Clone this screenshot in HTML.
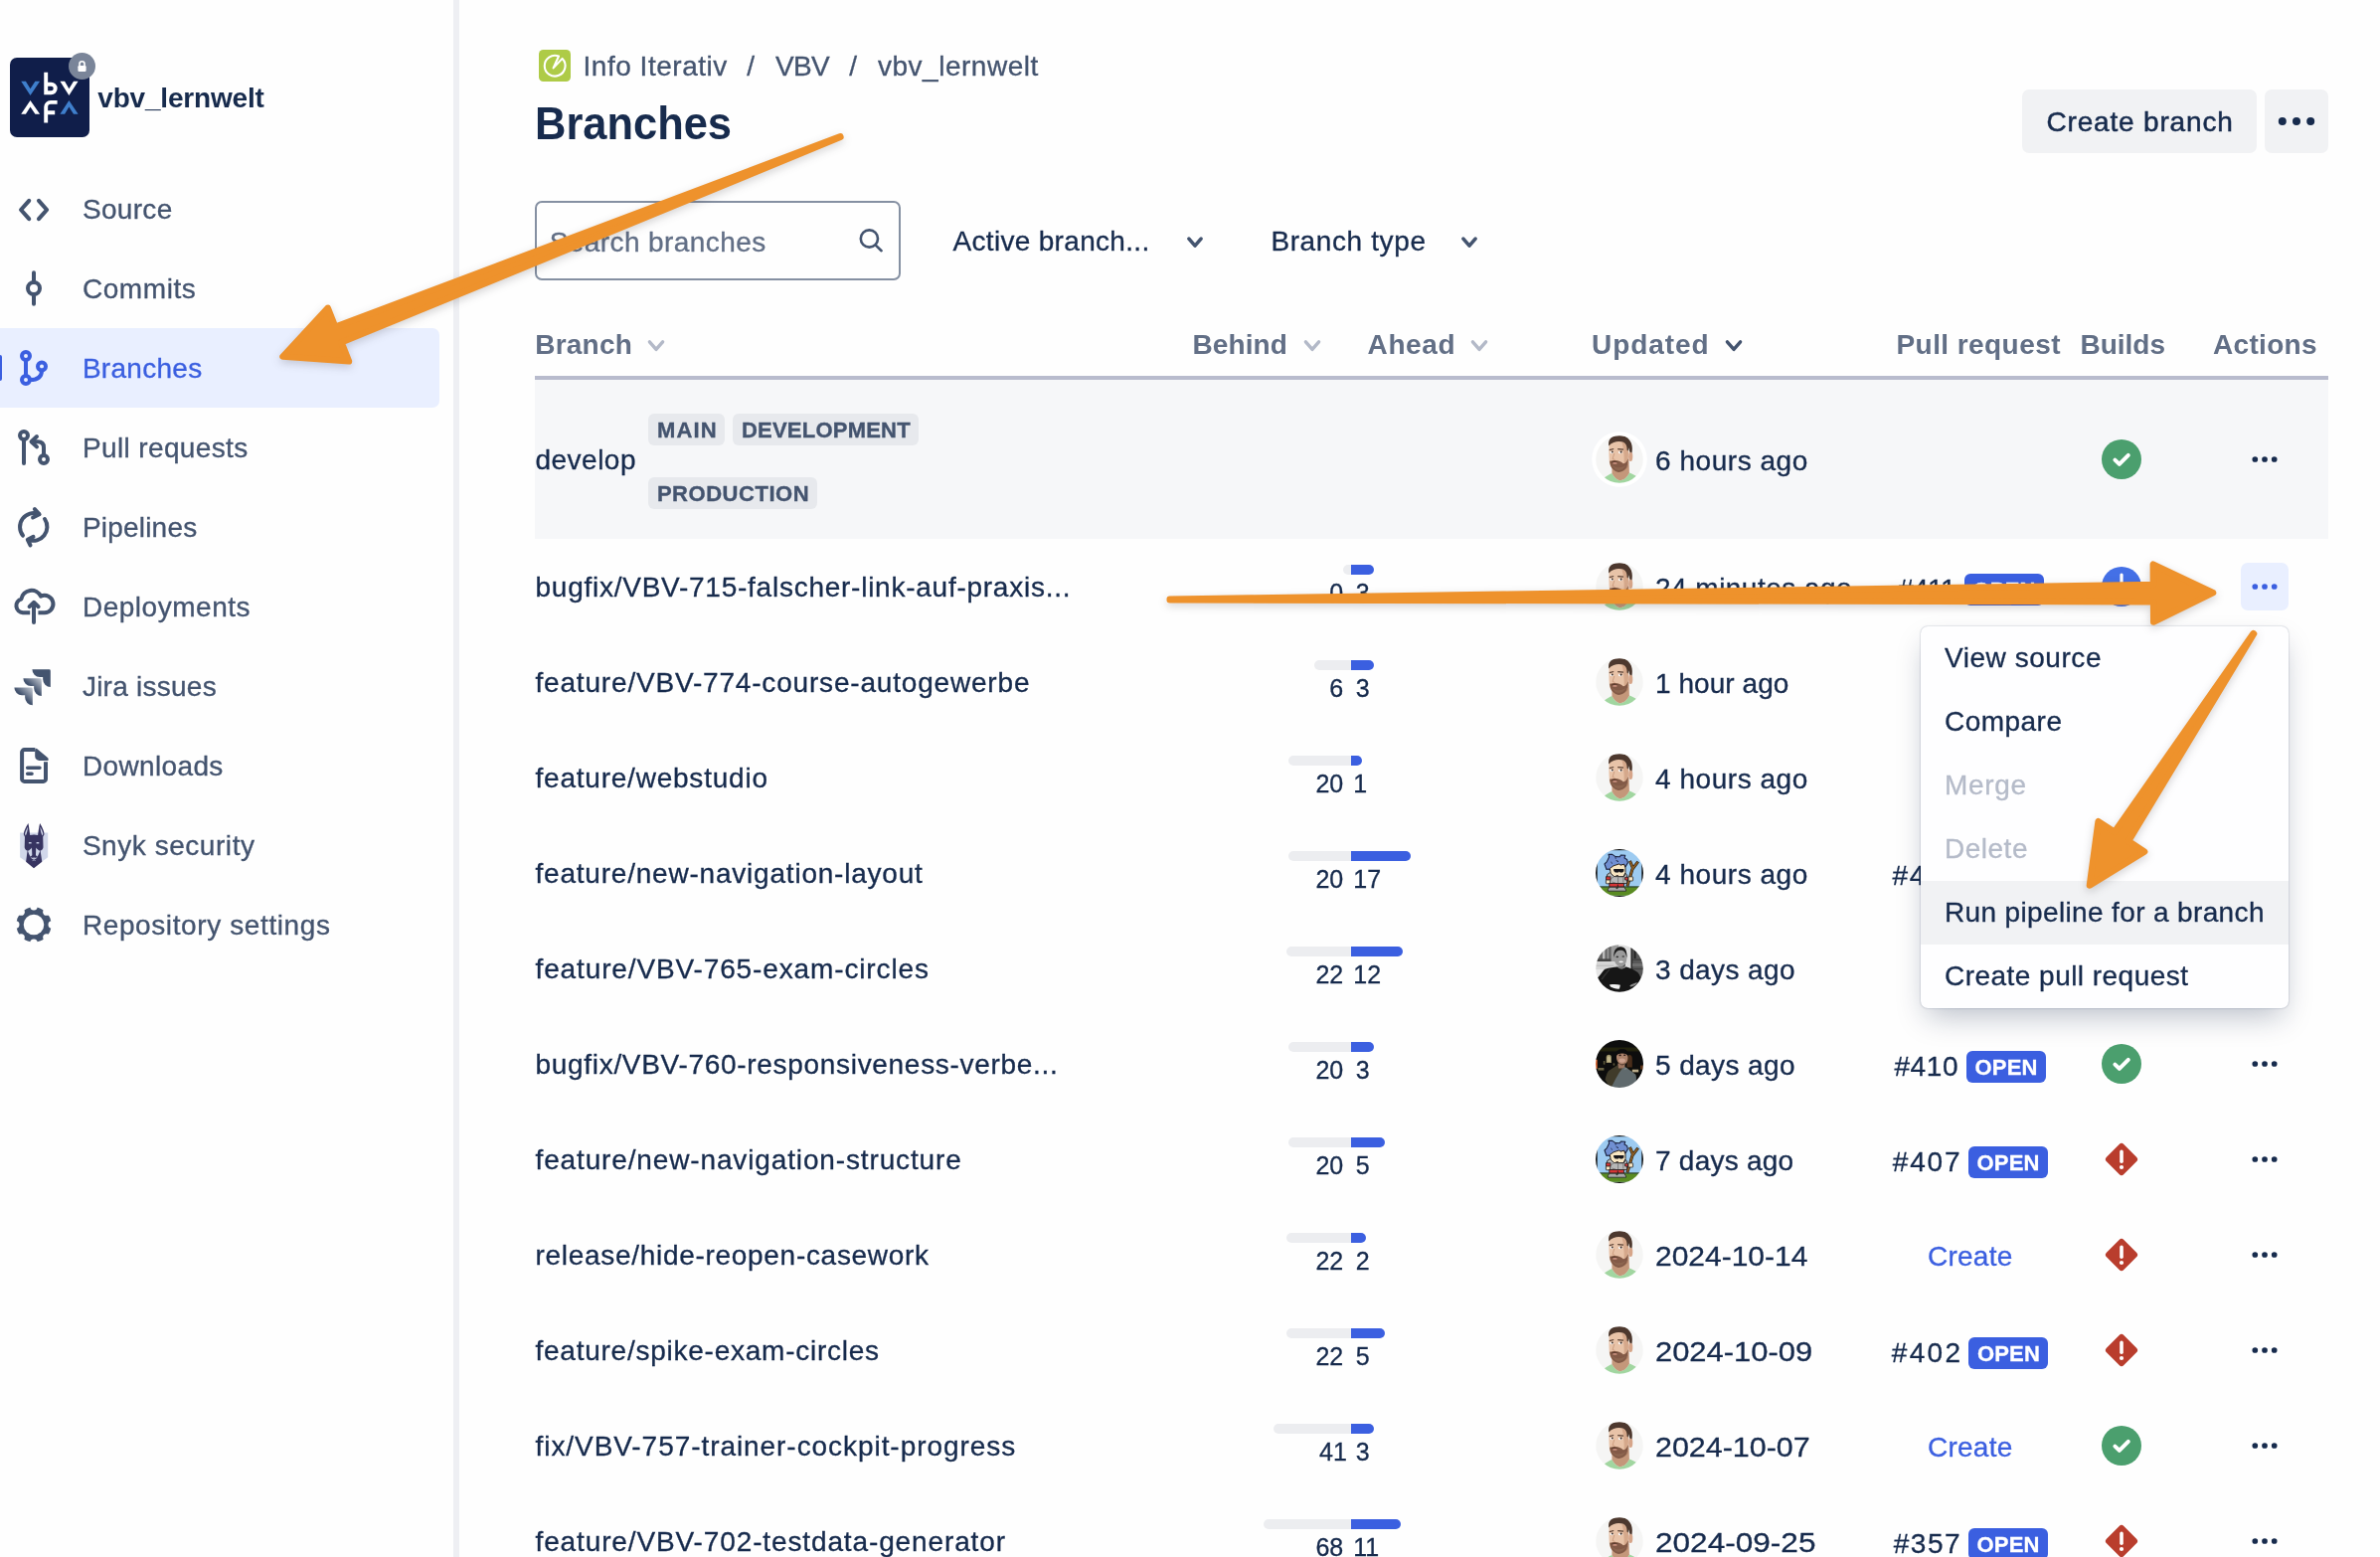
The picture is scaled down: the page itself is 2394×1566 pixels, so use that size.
<!DOCTYPE html>
<html><head><meta charset="utf-8"><title>Branches</title>
<style>
*{box-sizing:border-box;margin:0;padding:0}
html,body{width:2394px;height:1566px;overflow:hidden;background:#fefefe}
body{font-family:"Liberation Sans",sans-serif;position:relative;color:#172b4d}
.t{position:absolute;white-space:nowrap;font-family:"Liberation Sans",sans-serif}
.abs{position:absolute}
#root{position:absolute;left:0;top:0;width:2394px;height:1566px;will-change:transform;transform:translateZ(0)}
svg{position:absolute;overflow:visible}
</style></head>
<body>
<div id="root">
<div class="abs" style="left:456px;top:0;width:6px;height:1566px;background:#eeeff3"></div>
<div class="abs" style="left:-8px;top:330px;width:449.6px;height:80px;background:#e9efff;border-radius:7px"></div>
<div class="abs" style="left:-3px;top:357px;width:5px;height:26px;background:#3b5fe0;border-radius:2px"></div>
<div class="abs" style="left:10px;top:58px;width:80px;height:80px;background:#101e4a;border-radius:7px"></div>
<svg style="left:10px;top:58px" width="80" height="80" viewBox="10 58 80 80" fill="none">
<path d="M21.2 81.7 H25.9 L30.5 89.2 L35.4 81.7 H40.1 L30.5 95.9Z" fill="#3f7fcc"/>
<path d="M60.4 81.7 H65.1 L69.4 89.2 L74 81.7 H78.6 L69.4 95.9Z" fill="#fff"/>
<path d="M21.2 114.7 H25.9 L30.5 107.6 L35.4 114.7 H40.1 L30.5 101Z" fill="#fff"/>
<path d="M60.4 114.7 H65.1 L69.4 107.6 L74 114.7 H78.6 L69.4 101Z" fill="#3f7fcc"/>
<path d="M46.2 72.7 V95.2 M46.2 93.3 H51.4 A4.3 4.3 0 0 0 51.4 84.7 H46.2" stroke="#fff" stroke-width="3.9"/>
<path d="M46.2 123.5 V107.6 A4.7 4.7 0 0 1 50.9 102.9 H57.6 M46.2 113.2 H55.2" stroke="#fff" stroke-width="3.9"/>
</svg>
<div class="abs" style="left:68.5px;top:52.5px;width:27px;height:27px;background:#7a8599;border-radius:50%"></div>
<svg style="left:68.5px;top:52.5px" width="27" height="27" viewBox="0 0 27 27"><rect x="9.4" y="13" width="8.2" height="6" rx="1.2" fill="#fff"/><path d="M11 13 V11.3 A2.5 2.5 0 0 1 16 11.3 V13" stroke="#fff" stroke-width="1.6" fill="none"/></svg>
<span id="repo" class="t" style="left:98.3px;top:84.6px;font-size:28px;line-height:28px;color:#172b4d;font-weight:700;letter-spacing:-0.187px;">vbv_lernwelt</span>
<span id="nav0" class="t" style="left:82.9px;top:196.5px;font-size:28px;line-height:28px;color:#44546f;font-weight:400;letter-spacing:0.332px;-webkit-text-stroke:0.32px;">Source</span>
<span id="nav1" class="t" style="left:82.9px;top:276.5px;font-size:28px;line-height:28px;color:#44546f;font-weight:400;letter-spacing:0.588px;-webkit-text-stroke:0.32px;">Commits</span>
<span id="nav2" class="t" style="left:82.9px;top:356.5px;font-size:28px;line-height:28px;color:#3b5fe0;font-weight:400;letter-spacing:0.283px;-webkit-text-stroke:0.32px;">Branches</span>
<span id="nav3" class="t" style="left:82.9px;top:436.5px;font-size:28px;line-height:28px;color:#44546f;font-weight:400;letter-spacing:0.375px;-webkit-text-stroke:0.32px;">Pull requests</span>
<span id="nav4" class="t" style="left:82.9px;top:516.5px;font-size:28px;line-height:28px;color:#44546f;font-weight:400;letter-spacing:0.205px;-webkit-text-stroke:0.32px;">Pipelines</span>
<span id="nav5" class="t" style="left:82.9px;top:596.5px;font-size:28px;line-height:28px;color:#44546f;font-weight:400;letter-spacing:0.527px;-webkit-text-stroke:0.32px;">Deployments</span>
<span id="nav6" class="t" style="left:82.9px;top:676.5px;font-size:28px;line-height:28px;color:#44546f;font-weight:400;letter-spacing:0.251px;-webkit-text-stroke:0.32px;">Jira issues</span>
<span id="nav7" class="t" style="left:82.9px;top:756.5px;font-size:28px;line-height:28px;color:#44546f;font-weight:400;letter-spacing:0.369px;-webkit-text-stroke:0.32px;">Downloads</span>
<span id="nav8" class="t" style="left:82.9px;top:836.5px;font-size:28px;line-height:28px;color:#44546f;font-weight:400;letter-spacing:0.548px;-webkit-text-stroke:0.32px;">Snyk security</span>
<span id="nav9" class="t" style="left:82.9px;top:916.5px;font-size:28px;line-height:28px;color:#44546f;font-weight:400;letter-spacing:0.609px;-webkit-text-stroke:0.32px;">Repository settings</span>
<svg style="left:14px;top:191px" width="40" height="40" viewBox="-20 -20 40 40" fill="none" stroke="#44546f" stroke-width="4.1" stroke-linecap="round" stroke-linejoin="round"><path d="M-4.8 -9.15 L-12.95 0 L-4.8 9.15"/><path d="M5 -9.15 L13.1 0 L5 9.15"/></svg>
<svg style="left:14px;top:270px" width="40" height="40" viewBox="-20 -20 40 40" fill="none" stroke="#44546f" stroke-width="4" stroke-linecap="round" stroke-linejoin="round"><path d="M0 -15.8 V-8 M0 8 V15.8"/><circle cx="0" cy="0" r="6"/></svg>
<svg style="left:14px;top:350px" width="40" height="40" viewBox="-20 -20 40 40" fill="none" stroke="#3b5fe0" stroke-width="4" stroke-linecap="round" stroke-linejoin="round"><circle cx="-8" cy="-12" r="4"/><circle cx="-8" cy="12" r="4"/><circle cx="8" cy="-1.6" r="4"/><path d="M-8 -8 V8"/><path d="M8 2.4 C8 9 4 12 -4 12"/></svg>
<svg style="left:14px;top:430px" width="40" height="40" viewBox="-20 -20 40 40" fill="none" stroke="#44546f" stroke-width="4" stroke-linecap="round" stroke-linejoin="round"><circle cx="-10" cy="-12" r="4"/><path d="M-10 -8 V16"/><circle cx="10" cy="12" r="4"/><path d="M10 8 V0 C10 -4 8 -5.8 4 -5.8 H-1"/><path d="M3 -11 L-2.5 -5.8 L3 -0.6"/></svg>
<svg style="left:13.899999999999999px;top:509.5px" width="40" height="40" viewBox="-20 -20 40 40" fill="none" stroke="#44546f" stroke-width="4" stroke-linecap="round" stroke-linejoin="round"><path d="M-11 8.6 A14 14 0 0 1 5 -13.1"/><path d="M0.9 -17.9 L5.6 -12.7 L-0.9 -9.5"/><path d="M11 -8 A14 14 0 0 1 -5.4 13"/><path d="M-0.5 9.9 L-6.2 12.8 L-3.5 18.4"/></svg>
<svg style="left:9.899999999999999px;top:585.8px" width="48" height="48" viewBox="-24 -24 48 48" fill="none" stroke="#44546f" stroke-width="4" stroke-linecap="butt" stroke-linejoin="round"><path d="M-3.8 6.2 H-11 A7 7 0 0 1 -12.6 -7.5 A10.4 10.4 0 0 1 7 -10.3 A8.7 8.7 0 1 1 10 6.2 H4.4"/><path d="M0 16 V-3.4 M-4.4 0.2 L0 -4.2 L4.6 0.2" stroke-linecap="round"/></svg>
<svg style="left:0;top:660px" width="70" height="60" viewBox="0 660 70 60"><defs><linearGradient id="jg" x1="0.98" y1="0.02" x2="0.5" y2="0.52"><stop offset="0" stop-color="#44546f" stop-opacity="0.3"/><stop offset="1" stop-color="#44546f"/></linearGradient></defs><path transform="translate(50.8 673.3)" d="M-18.4 0 H-1.4 A1.4 1.4 0 0 1 0 1.4 V17.7 A7.64 7.64 0 0 1 -7.64 10.07 V7.64 H-10.8 A7.64 7.64 0 0 1 -18.4 0Z" fill="#44546f"/><path transform="translate(41.8 682.3)" d="M-18.4 0 H-1.4 A1.4 1.4 0 0 1 0 1.4 V17.7 A7.64 7.64 0 0 1 -7.64 10.07 V7.64 H-10.8 A7.64 7.64 0 0 1 -18.4 0Z" fill="url(#jg)"/><path transform="translate(32.8 691.5)" d="M-18.4 0 H-1.4 A1.4 1.4 0 0 1 0 1.4 V17.7 A7.64 7.64 0 0 1 -7.64 10.07 V7.64 H-10.8 A7.64 7.64 0 0 1 -18.4 0Z" fill="url(#jg)"/></svg>
<svg style="left:14.100000000000001px;top:749.8px" width="40" height="40" viewBox="-20 -20 40 40" fill="none" stroke="#44546f" stroke-width="4" stroke-linecap="butt" stroke-linejoin="round"><path d="M12 -3.7 V13.4 A2.5 2.5 0 0 1 9.5 15.9 H-9.4 A2.5 2.5 0 0 1 -11.9 13.4 V-13.4 A2.5 2.5 0 0 1 -9.4 -15.9 H1.4"/><path d="M2.6 -16.4 L13.4 -7.4 Q14 -6.6 13.9 -5.9 H5.4 Q2.2 -6.2 2 -9.4 V-15.9 Z" fill="#44546f" stroke-width="1.6"/><path d="M-6.3 2.2 H5.9 M-6.3 8.2 H-2" stroke-width="3.6" stroke-linecap="round"/></svg>
<svg style="left:9.9px;top:826px" width="48" height="48" viewBox="-24 -24 48 48">
<path d="M-13.9 -12.5 H14.2 V12.3 L8.2 16.6 H-7.8 L-13.9 12.3Z" fill="#d1d7ea"/>
<path d="M-5.6 -22 C-4.6 -17 -4.2 -13 -3.8 -9.9 C-1.4 -10.6 1.6 -10.6 4.1 -9.9 C4.5 -13 5 -17 6.1 -22 C8.6 -18 10.4 -14 10.5 -11 C10 -9.6 9.5 -9 9.2 -8.2 L9.5 2.2 C9.2 4 8 5.2 6.6 5.6 L8.3 16.8 L0 23.2 L-7.9 16.8 L-6.4 5.6 C-7.8 5.2 -9 4 -9.3 2.2 L-9 -8.2 C-9.3 -9 -9.8 -9.6 -10.2 -11 C-10 -14 -8.2 -18 -5.6 -22Z" fill="#373461"/>
<path d="M-5.9 -18.6 C-7.6 -15.6 -8.8 -13 -8.9 -11 L-8.2 -9.4 C-7 -12 -6.2 -15 -5.9 -18.6Z M6.3 -18.6 C8 -15.6 9.2 -13 9.3 -11 L8.6 -9.4 C7.4 -12 6.6 -15 6.3 -18.6Z" fill="#d1d7ea"/>
<path d="M-6 5.8 C-4.2 5 -2.8 3.6 -2 2.4 L-1.7 10 C-2.2 10.8 -2.8 11.2 -3.4 11.4 C-4.6 10 -5.4 8 -6 5.8Z M6.2 5.8 C4.4 5 3 3.6 2.2 2.4 L2 10 C2.4 10.8 3 11.2 3.6 11.4 C4.8 10 5.6 8 6.2 5.8Z" fill="#d1d7ea"/>
<path d="M-3.6 11.6 C-2.4 13 -1.2 13.2 0.1 12.2 C1.4 13.2 2.6 13 3.8 11.6 C3 13.6 1.6 14.6 0.1 14.6 C-1.4 14.6 -2.8 13.6 -3.6 11.6Z" fill="#d1d7ea" opacity="0.85"/>
<rect x="-5.2" y="-2.9" width="2.9" height="1.5" rx="0.6" fill="#c4cae2"/><rect x="2.5" y="-2.9" width="2.9" height="1.5" rx="0.6" fill="#c4cae2"/>
<path d="M-1.4 15.6 Q0.1 14.2 1.6 15.6" stroke="#b9c0dc" stroke-width="0.8" fill="none"/>
</svg>
<svg style="left:9.7px;top:905.7px" width="48" height="48" viewBox="-24 -24 48 48"><defs><mask id="gm" maskUnits="userSpaceOnUse" x="-24" y="-24" width="48" height="48"><circle cx="0" cy="0" r="17.65" fill="#fff"/><circle cx="0.00" cy="-18.20" r="3.7" fill="#000"/><circle cx="12.87" cy="-12.87" r="3.7" fill="#000"/><circle cx="18.20" cy="0.00" r="3.7" fill="#000"/><circle cx="12.87" cy="12.87" r="3.7" fill="#000"/><circle cx="0.00" cy="18.20" r="3.7" fill="#000"/><circle cx="-12.87" cy="12.87" r="3.7" fill="#000"/><circle cx="-18.20" cy="0.00" r="3.7" fill="#000"/><circle cx="-12.87" cy="-12.87" r="3.7" fill="#000"/><circle cx="0" cy="0" r="10.25" fill="#000"/></mask></defs><rect x="-24" y="-24" width="48" height="48" fill="#44546f" mask="url(#gm)"/></svg>
<div class="abs" style="left:542px;top:50px;width:32px;height:32px;background:#aecb47;border-radius:4.5px"></div>
<svg style="left:542px;top:50px" width="32" height="32" viewBox="0 0 32 32" fill="none" stroke="#fff" stroke-width="2.1" stroke-linejoin="round"><path d="M20 6.5 A10.4 10.4 0 1 0 23.6 8.9 L14.6 18.4 Z"/></svg>
<span id="bc1" class="t" style="left:586.5px;top:53.0px;font-size:28px;line-height:28px;color:#44546f;font-weight:400;letter-spacing:0.522px;-webkit-text-stroke:0.32px;">Info Iterativ</span>
<span id="bcs1" class="t" style="left:751.2px;top:53.0px;font-size:28px;line-height:28px;color:#44546f;font-weight:400;letter-spacing:0.000px;-webkit-text-stroke:0.32px;">/</span>
<span id="bc2" class="t" style="left:780.0px;top:53.0px;font-size:28px;line-height:28px;color:#44546f;font-weight:400;letter-spacing:-0.676px;-webkit-text-stroke:0.32px;">VBV</span>
<span id="bcs2" class="t" style="left:854.2px;top:53.0px;font-size:28px;line-height:28px;color:#44546f;font-weight:400;letter-spacing:0.000px;-webkit-text-stroke:0.32px;">/</span>
<span id="bc3" class="t" style="left:883.0px;top:53.0px;font-size:28px;line-height:28px;color:#44546f;font-weight:400;letter-spacing:0.513px;-webkit-text-stroke:0.32px;">vbv_lernwelt</span>
<span id="h1" class="t" style="left:537.8px;top:99.9px;font-size:47px;line-height:47px;color:#172b4d;font-weight:700;letter-spacing:0.000px;transform:scaleX(0.9245);transform-origin:left center;">Branches</span>
<div class="abs" style="left:2034px;top:90px;width:236px;height:64px;background:#f1f2f4;border-radius:7px"></div>
<span id="cb" class="t" style="left:2058.5px;top:108.6px;font-size:28px;line-height:28px;color:#172b4d;font-weight:400;letter-spacing:0.820px;-webkit-text-stroke:0.5px;">Create branch</span>
<div class="abs" style="left:2278px;top:90px;width:64px;height:64px;background:#f1f2f4;border-radius:7px"></div>
<svg style="left:2278px;top:90px" width="64" height="64" viewBox="0 0 64 64" fill="#172b4d"><circle cx="17.8" cy="32" r="4"/><circle cx="32" cy="32" r="4"/><circle cx="46.2" cy="32" r="4"/></svg>
<div class="abs" style="left:538px;top:202px;width:368px;height:80px;border:2px solid #8590a2;border-radius:7px;background:#fefefe"></div>
<span id="sp" class="t" style="left:552.7px;top:230.0px;font-size:28px;line-height:28px;color:#626f86;font-weight:400;letter-spacing:0.414px;-webkit-text-stroke:0.32px;">Search branches</span>
<svg style="left:860px;top:226px" width="32" height="32" viewBox="0 0 32 32" fill="none" stroke="#44546f" stroke-width="2.6" stroke-linecap="round"><circle cx="14.4" cy="14" r="8.6"/><path d="M20.8 20.6 L26.6 26.2"/></svg>
<span id="f1" class="t" style="left:958.5px;top:228.6px;font-size:28px;line-height:28px;color:#172b4d;font-weight:400;letter-spacing:0.313px;-webkit-text-stroke:0.32px;">Active branch...</span>
<svg style="left:1189.8px;top:230.6px" width="24" height="24" viewBox="-12 -12 24 24" fill="none" stroke="#44546f" stroke-width="3.6" stroke-linecap="round" stroke-linejoin="round"><path d="M-6.1 -2.9 L0 4.1 L6.1 -2.9"/></svg>
<span id="f2" class="t" style="left:1278.4px;top:228.6px;font-size:28px;line-height:28px;color:#172b4d;font-weight:400;letter-spacing:0.616px;-webkit-text-stroke:0.32px;">Branch type</span>
<svg style="left:1465.7px;top:230.6px" width="24" height="24" viewBox="-12 -12 24 24" fill="none" stroke="#44546f" stroke-width="3.6" stroke-linecap="round" stroke-linejoin="round"><path d="M-6.1 -2.9 L0 4.1 L6.1 -2.9"/></svg>
<span id="th1" class="t" style="left:538.3px;top:333.4px;font-size:28px;line-height:28px;color:#626f86;font-weight:700;letter-spacing:0.202px;">Branch</span>
<svg style="left:648px;top:335px" width="24" height="24" viewBox="-12 -12 24 24" fill="none" stroke="#b3b9c8" stroke-width="3.4" stroke-linecap="round" stroke-linejoin="round"><path d="M-6.6 -3.1999999999999997 L0 4.3999999999999995 L6.6 -3.1999999999999997"/></svg>
<span id="th2" class="t" style="left:1199.4px;top:333.4px;font-size:28px;line-height:28px;color:#626f86;font-weight:700;letter-spacing:0.118px;">Behind</span>
<svg style="left:1307.7px;top:335px" width="24" height="24" viewBox="-12 -12 24 24" fill="none" stroke="#b3b9c8" stroke-width="3.4" stroke-linecap="round" stroke-linejoin="round"><path d="M-6.6 -3.1999999999999997 L0 4.3999999999999995 L6.6 -3.1999999999999997"/></svg>
<span id="th3" class="t" style="left:1375.6px;top:333.4px;font-size:28px;line-height:28px;color:#626f86;font-weight:700;letter-spacing:0.600px;">Ahead</span>
<svg style="left:1475.8px;top:335px" width="24" height="24" viewBox="-12 -12 24 24" fill="none" stroke="#b3b9c8" stroke-width="3.4" stroke-linecap="round" stroke-linejoin="round"><path d="M-6.6 -3.1999999999999997 L0 4.3999999999999995 L6.6 -3.1999999999999997"/></svg>
<span id="th4" class="t" style="left:1601.1px;top:333.4px;font-size:28px;line-height:28px;color:#626f86;font-weight:700;letter-spacing:0.930px;">Updated</span>
<svg style="left:1732px;top:335px" width="24" height="24" viewBox="-12 -12 24 24" fill="none" stroke="#44546f" stroke-width="3.4" stroke-linecap="round" stroke-linejoin="round"><path d="M-6.6 -3.1999999999999997 L0 4.3999999999999995 L6.6 -3.1999999999999997"/></svg>
<span id="th5" class="t" style="left:1907.5px;top:333.4px;font-size:28px;line-height:28px;color:#626f86;font-weight:700;letter-spacing:0.429px;">Pull request</span>
<span id="th6" class="t" style="left:2092.5px;top:333.4px;font-size:28px;line-height:28px;color:#626f86;font-weight:700;letter-spacing:-0.016px;">Builds</span>
<span id="th7" class="t" style="left:2226.1px;top:333.4px;font-size:28px;line-height:28px;color:#626f86;font-weight:700;letter-spacing:0.299px;">Actions</span>
<div class="abs" style="left:538px;top:378.4px;width:1804px;height:3.6px;background:#b8bbcd"></div>
<div class="abs" style="left:538px;top:382px;width:1804px;height:160px;background:#f6f7f9"></div>
<div class="abs" style="left:652px;top:416px;width:77px;height:32px;background:#e7e9ed;border-radius:6px"></div>
<span id="lz1" class="t" style="left:660.9px;top:421.7px;font-size:22px;line-height:22px;color:#44546f;font-weight:700;letter-spacing:1.184px;-webkit-text-stroke:0.35px;">MAIN</span>
<div class="abs" style="left:737px;top:416px;width:187px;height:32px;background:#e7e9ed;border-radius:6px"></div>
<span id="lz2" class="t" style="left:745.9px;top:421.7px;font-size:22px;line-height:22px;color:#44546f;font-weight:700;letter-spacing:0.230px;-webkit-text-stroke:0.35px;">DEVELOPMENT</span>
<div class="abs" style="left:652px;top:480px;width:170px;height:32px;background:#e7e9ed;border-radius:6px"></div>
<span id="lz3" class="t" style="left:660.9px;top:485.7px;font-size:22px;line-height:22px;color:#44546f;font-weight:700;letter-spacing:0.542px;-webkit-text-stroke:0.35px;">PRODUCTION</span>
<span id="dev" class="t" style="left:538.5px;top:449.1px;font-size:28px;line-height:28px;color:#172b4d;font-weight:400;letter-spacing:0.481px;-webkit-text-stroke:0.32px;">develop</span>
<svg style="left:1601.2px;top:434.3px" width="56" height="56" viewBox="-28 -28 56 56"><defs><clipPath id="cd"><circle cx="0" cy="0" r="23.8"/></clipPath><filter id="bd" x="-10%" y="-10%" width="120%" height="120%"><feGaussianBlur stdDeviation="0.4"/></filter></defs><circle cx="0" cy="0" r="27.8" fill="#ffffff"/><g clip-path="url(#cd)"><g filter="url(#bd)"><rect x="-26" y="-26" width="52" height="52" fill="#f5f5f4"/>
<path d="M-16.5 19.5 C-13 16.5 -9.5 14.8 -7.6 14 C-5 19 -1 21.3 0.5 21.3 C4 21.3 8 18 9.9 13.6 C12.5 14.6 15.5 16 17.5 17.6 L22 26 H-22Z" fill="#a1d6a0"/>
<path d="M-7.4 5 L-7.6 14 C-5 19 -1 21.3 0.5 21.3 C4 21.3 8 18 9.9 13.6 L9.4 0 Z" fill="#c4977a"/>
<path d="M-7.4 9 C-3 13.5 3 13.5 8.5 8 L9.3 3 L-7.4 5Z" fill="#a87c62" opacity="0.7"/>
<ellipse cx="11.2" cy="-2.8" rx="2.1" ry="4.9" fill="#d6a589"/>
<path d="M-10.3 -19 C-10.8 -8 -10.6 0 -9.8 5 C-8 10 -4 12.6 -1 12.8 C3 12.8 7.2 9 8.4 4 L9.2 -8 L7.6 -19.5 Z" fill="#e8c3a8"/>
<path d="M2.5 -17 L7.6 -17.5 L9.2 -8 L8.4 4 C7.6 7 6 9.4 4 11 C5.2 4 5 -8 2.5 -17Z" fill="#cf9f82" opacity="0.75"/>
<path d="M-10.8 -13.6 C-11.6 -20 -8 -23.6 -2 -24.2 C4 -24.8 9.4 -22.2 11.8 -16.4 C13.2 -12.6 13 -8.6 12.4 -6.4 L10.4 -7.6 C9.8 -8.6 9.6 -10.2 9.2 -11.8 L8.7 -8.6 L7.6 -9.2 C7.8 -13 6.6 -15.8 4 -17.2 C0 -18.4 -6 -18.6 -10.8 -13.6Z" fill="#4d392e"/>
<path d="M-9.9 1.6 C-9.6 7 -7 11 -3 12.6 C0 13.5 4 12.2 6.6 9 C8.2 6.5 8.7 3 8.8 -1 C7.4 2.6 5.8 4.2 3.8 4.2 C2.2 2.4 -1 0.9 -4.6 0.9 C-6.6 0.9 -8.2 1.8 -9.9 1.6Z" fill="#835a46"/>
<path d="M-8.2 2.4 C-6 1.2 -3 1.4 -0.6 3 C-3 2.6 -6 2.8 -8.2 3.6Z" fill="#5e3c2e"/><path d="M-7.6 5.4 C-6 9 -3 11 -0.4 11 C2.6 11 5 9 6.4 5.8 C4 7.6 2 8.2 -0.4 8.2 C-3 8.2 -5.6 7.4 -7.6 5.4Z" fill="#96705a" opacity="0.55"/>
<ellipse cx="-4.6" cy="3.9" rx="2.3" ry="0.9" fill="#c9907f"/>
<ellipse cx="-7.7" cy="-7" rx="1.7" ry="1.15" fill="#fff"/><ellipse cx="0.9" cy="-6.9" rx="2" ry="1.25" fill="#fff"/>
<circle cx="-7.2" cy="-7.5" r="0.95" fill="#3a2a24"/><circle cx="1.6" cy="-7.4" r="1.05" fill="#3a2a24"/>
<path d="M-10.2 -9.4 L-5.8 -10.5 M-1.8 -10.4 L4 -9.9" stroke="#5a4033" stroke-width="1.2" fill="none"/>
<path d="M-5.2 -6 L-7 -0.4 L-4.4 0.4" stroke="#c9997c" stroke-width="0.9" fill="none"/></g></g></svg>
<span id="upd" class="t" style="left:1665.0px;top:449.8px;font-size:28px;line-height:28px;color:#172b4d;font-weight:400;letter-spacing:0.539px;-webkit-text-stroke:0.32px;">6 hours ago</span>
<svg style="left:2113.9px;top:441.8px" width="40" height="40" viewBox="-20 -20 40 40"><circle cx="0" cy="0" r="20" fill="#4b9f6e"/><path d="M-6.6 0.6 L-2.2 4.8 L6.8 -4.2" fill="none" stroke="#fff" stroke-width="4" stroke-linecap="round" stroke-linejoin="round"/></svg>
<svg style="left:2262px;top:453.8px" width="32" height="16" viewBox="-16 -8 32 16" fill="#172b4d"><circle cx="-9.7" cy="0" r="2.85"/><circle cx="0" cy="0" r="2.85"/><circle cx="9.7" cy="0" r="2.85"/></svg>
<span id="bn0" class="t" style="left:538.5px;top:577.4px;font-size:28px;line-height:28px;color:#172b4d;font-weight:400;letter-spacing:0.748px;-webkit-text-stroke:0.32px;">bugfix/VBV-715-falscher-link-auf-praxis...</span>
<div class="abs" style="left:1350.7px;top:567.7px;width:8.0px;height:10px;background:#ecedf0;border-radius:5px 0 0 5px"></div>
<div class="abs" style="left:1358.7px;top:567.7px;width:23.3px;height:10px;background:#3b5fe0;border-radius:0 5px 5px 0"></div>
<span id="nb0" class="t" style="right:1042.8px;top:583.7px;font-size:25px;line-height:25px;color:#172b4d;font-weight:400;letter-spacing:0.000px;margin-right:0.000px;-webkit-text-stroke:0.32px;">0</span>
<span id="na0" class="t" style="left:1363.7px;top:583.7px;font-size:25px;line-height:25px;color:#172b4d;font-weight:400;letter-spacing:0.000px;-webkit-text-stroke:0.32px;">3</span>
<svg style="left:1601.2px;top:562.3px" width="56" height="56" viewBox="-28 -28 56 56"><defs><clipPath id="cr0"><circle cx="0" cy="0" r="23.8"/></clipPath><filter id="br0" x="-10%" y="-10%" width="120%" height="120%"><feGaussianBlur stdDeviation="0.4"/></filter></defs><g clip-path="url(#cr0)"><g filter="url(#br0)"><rect x="-26" y="-26" width="52" height="52" fill="#f5f5f4"/>
<path d="M-16.5 19.5 C-13 16.5 -9.5 14.8 -7.6 14 C-5 19 -1 21.3 0.5 21.3 C4 21.3 8 18 9.9 13.6 C12.5 14.6 15.5 16 17.5 17.6 L22 26 H-22Z" fill="#a1d6a0"/>
<path d="M-7.4 5 L-7.6 14 C-5 19 -1 21.3 0.5 21.3 C4 21.3 8 18 9.9 13.6 L9.4 0 Z" fill="#c4977a"/>
<path d="M-7.4 9 C-3 13.5 3 13.5 8.5 8 L9.3 3 L-7.4 5Z" fill="#a87c62" opacity="0.7"/>
<ellipse cx="11.2" cy="-2.8" rx="2.1" ry="4.9" fill="#d6a589"/>
<path d="M-10.3 -19 C-10.8 -8 -10.6 0 -9.8 5 C-8 10 -4 12.6 -1 12.8 C3 12.8 7.2 9 8.4 4 L9.2 -8 L7.6 -19.5 Z" fill="#e8c3a8"/>
<path d="M2.5 -17 L7.6 -17.5 L9.2 -8 L8.4 4 C7.6 7 6 9.4 4 11 C5.2 4 5 -8 2.5 -17Z" fill="#cf9f82" opacity="0.75"/>
<path d="M-10.8 -13.6 C-11.6 -20 -8 -23.6 -2 -24.2 C4 -24.8 9.4 -22.2 11.8 -16.4 C13.2 -12.6 13 -8.6 12.4 -6.4 L10.4 -7.6 C9.8 -8.6 9.6 -10.2 9.2 -11.8 L8.7 -8.6 L7.6 -9.2 C7.8 -13 6.6 -15.8 4 -17.2 C0 -18.4 -6 -18.6 -10.8 -13.6Z" fill="#4d392e"/>
<path d="M-9.9 1.6 C-9.6 7 -7 11 -3 12.6 C0 13.5 4 12.2 6.6 9 C8.2 6.5 8.7 3 8.8 -1 C7.4 2.6 5.8 4.2 3.8 4.2 C2.2 2.4 -1 0.9 -4.6 0.9 C-6.6 0.9 -8.2 1.8 -9.9 1.6Z" fill="#835a46"/>
<path d="M-8.2 2.4 C-6 1.2 -3 1.4 -0.6 3 C-3 2.6 -6 2.8 -8.2 3.6Z" fill="#5e3c2e"/><path d="M-7.6 5.4 C-6 9 -3 11 -0.4 11 C2.6 11 5 9 6.4 5.8 C4 7.6 2 8.2 -0.4 8.2 C-3 8.2 -5.6 7.4 -7.6 5.4Z" fill="#96705a" opacity="0.55"/>
<ellipse cx="-4.6" cy="3.9" rx="2.3" ry="0.9" fill="#c9907f"/>
<ellipse cx="-7.7" cy="-7" rx="1.7" ry="1.15" fill="#fff"/><ellipse cx="0.9" cy="-6.9" rx="2" ry="1.25" fill="#fff"/>
<circle cx="-7.2" cy="-7.5" r="0.95" fill="#3a2a24"/><circle cx="1.6" cy="-7.4" r="1.05" fill="#3a2a24"/>
<path d="M-10.2 -9.4 L-5.8 -10.5 M-1.8 -10.4 L4 -9.9" stroke="#5a4033" stroke-width="1.2" fill="none"/>
<path d="M-5.2 -6 L-7 -0.4 L-4.4 0.4" stroke="#c9997c" stroke-width="0.9" fill="none"/></g></g></svg>
<span id="up0" class="t" style="left:1665.0px;top:578.0px;font-size:28px;line-height:28px;color:#172b4d;font-weight:400;letter-spacing:0.470px;-webkit-text-stroke:0.32px;">24 minutes ago</span>
<span id="pr0" class="t" style="right:426.4px;top:579.0px;font-size:28px;line-height:28px;color:#172b4d;font-weight:400;letter-spacing:-0.580px;margin-right:0.580px;-webkit-text-stroke:0.32px;">#411</span>
<div class="abs" style="left:1976px;top:577px;width:80px;height:32px;background:#3b5fe0;border-radius:6px"></div>
<span id="op0" class="t" style="left:1984.5px;top:582.9px;font-size:22px;line-height:22px;color:#fff;font-weight:700;letter-spacing:0.204px;-webkit-text-stroke:0.3px;">OPEN</span>
<svg style="left:2113.8px;top:570px" width="40" height="40" viewBox="-20 -20 40 40"><circle cx="0" cy="0" r="20" fill="#4470e6"/><path d="M0 -12 V0 L7 6" fill="none" stroke="#fff" stroke-width="3.2" stroke-linecap="round" stroke-linejoin="round"/></svg>
<div class="abs" style="left:2254px;top:566px;width:48px;height:48px;background:#e9efff;border-radius:7px"></div>
<svg style="left:2262px;top:582px" width="32" height="16" viewBox="-16 -8 32 16" fill="#3b5fe0"><circle cx="-9.7" cy="0" r="2.85"/><circle cx="0" cy="0" r="2.85"/><circle cx="9.7" cy="0" r="2.85"/></svg>
<span id="bn1" class="t" style="left:538.5px;top:673.4px;font-size:28px;line-height:28px;color:#172b4d;font-weight:400;letter-spacing:0.815px;-webkit-text-stroke:0.32px;">feature/VBV-774-course-autogewerbe</span>
<div class="abs" style="left:1322.0px;top:663.7px;width:36.7px;height:10px;background:#ecedf0;border-radius:5px 0 0 5px"></div>
<div class="abs" style="left:1358.7px;top:663.7px;width:23.3px;height:10px;background:#3b5fe0;border-radius:0 5px 5px 0"></div>
<span id="nb1" class="t" style="right:1042.8px;top:679.7px;font-size:25px;line-height:25px;color:#172b4d;font-weight:400;letter-spacing:0.000px;margin-right:0.000px;-webkit-text-stroke:0.32px;">6</span>
<span id="na1" class="t" style="left:1363.7px;top:679.7px;font-size:25px;line-height:25px;color:#172b4d;font-weight:400;letter-spacing:0.000px;-webkit-text-stroke:0.32px;">3</span>
<svg style="left:1601.2px;top:658.3px" width="56" height="56" viewBox="-28 -28 56 56"><defs><clipPath id="cr1"><circle cx="0" cy="0" r="23.8"/></clipPath><filter id="br1" x="-10%" y="-10%" width="120%" height="120%"><feGaussianBlur stdDeviation="0.4"/></filter></defs><g clip-path="url(#cr1)"><g filter="url(#br1)"><rect x="-26" y="-26" width="52" height="52" fill="#f5f5f4"/>
<path d="M-16.5 19.5 C-13 16.5 -9.5 14.8 -7.6 14 C-5 19 -1 21.3 0.5 21.3 C4 21.3 8 18 9.9 13.6 C12.5 14.6 15.5 16 17.5 17.6 L22 26 H-22Z" fill="#a1d6a0"/>
<path d="M-7.4 5 L-7.6 14 C-5 19 -1 21.3 0.5 21.3 C4 21.3 8 18 9.9 13.6 L9.4 0 Z" fill="#c4977a"/>
<path d="M-7.4 9 C-3 13.5 3 13.5 8.5 8 L9.3 3 L-7.4 5Z" fill="#a87c62" opacity="0.7"/>
<ellipse cx="11.2" cy="-2.8" rx="2.1" ry="4.9" fill="#d6a589"/>
<path d="M-10.3 -19 C-10.8 -8 -10.6 0 -9.8 5 C-8 10 -4 12.6 -1 12.8 C3 12.8 7.2 9 8.4 4 L9.2 -8 L7.6 -19.5 Z" fill="#e8c3a8"/>
<path d="M2.5 -17 L7.6 -17.5 L9.2 -8 L8.4 4 C7.6 7 6 9.4 4 11 C5.2 4 5 -8 2.5 -17Z" fill="#cf9f82" opacity="0.75"/>
<path d="M-10.8 -13.6 C-11.6 -20 -8 -23.6 -2 -24.2 C4 -24.8 9.4 -22.2 11.8 -16.4 C13.2 -12.6 13 -8.6 12.4 -6.4 L10.4 -7.6 C9.8 -8.6 9.6 -10.2 9.2 -11.8 L8.7 -8.6 L7.6 -9.2 C7.8 -13 6.6 -15.8 4 -17.2 C0 -18.4 -6 -18.6 -10.8 -13.6Z" fill="#4d392e"/>
<path d="M-9.9 1.6 C-9.6 7 -7 11 -3 12.6 C0 13.5 4 12.2 6.6 9 C8.2 6.5 8.7 3 8.8 -1 C7.4 2.6 5.8 4.2 3.8 4.2 C2.2 2.4 -1 0.9 -4.6 0.9 C-6.6 0.9 -8.2 1.8 -9.9 1.6Z" fill="#835a46"/>
<path d="M-8.2 2.4 C-6 1.2 -3 1.4 -0.6 3 C-3 2.6 -6 2.8 -8.2 3.6Z" fill="#5e3c2e"/><path d="M-7.6 5.4 C-6 9 -3 11 -0.4 11 C2.6 11 5 9 6.4 5.8 C4 7.6 2 8.2 -0.4 8.2 C-3 8.2 -5.6 7.4 -7.6 5.4Z" fill="#96705a" opacity="0.55"/>
<ellipse cx="-4.6" cy="3.9" rx="2.3" ry="0.9" fill="#c9907f"/>
<ellipse cx="-7.7" cy="-7" rx="1.7" ry="1.15" fill="#fff"/><ellipse cx="0.9" cy="-6.9" rx="2" ry="1.25" fill="#fff"/>
<circle cx="-7.2" cy="-7.5" r="0.95" fill="#3a2a24"/><circle cx="1.6" cy="-7.4" r="1.05" fill="#3a2a24"/>
<path d="M-10.2 -9.4 L-5.8 -10.5 M-1.8 -10.4 L4 -9.9" stroke="#5a4033" stroke-width="1.2" fill="none"/>
<path d="M-5.2 -6 L-7 -0.4 L-4.4 0.4" stroke="#c9997c" stroke-width="0.9" fill="none"/></g></g></svg>
<span id="up1" class="t" style="left:1665.0px;top:674.0px;font-size:28px;line-height:28px;color:#172b4d;font-weight:400;letter-spacing:0.054px;-webkit-text-stroke:0.32px;">1 hour ago</span>
<svg style="left:2262px;top:678px" width="32" height="16" viewBox="-16 -8 32 16" fill="#172b4d"><circle cx="-9.7" cy="0" r="2.85"/><circle cx="0" cy="0" r="2.85"/><circle cx="9.7" cy="0" r="2.85"/></svg>
<span id="bn2" class="t" style="left:538.5px;top:769.4px;font-size:28px;line-height:28px;color:#172b4d;font-weight:400;letter-spacing:0.777px;-webkit-text-stroke:0.32px;">feature/webstudio</span>
<div class="abs" style="left:1295.9px;top:759.7px;width:62.8px;height:10px;background:#ecedf0;border-radius:5px 0 0 5px"></div>
<div class="abs" style="left:1358.7px;top:759.7px;width:11.5px;height:10px;background:#3b5fe0;border-radius:0 5px 5px 0"></div>
<span id="nb2" class="t" style="right:1042.8px;top:775.7px;font-size:25px;line-height:25px;color:#172b4d;font-weight:400;letter-spacing:0.000px;margin-right:0.000px;-webkit-text-stroke:0.32px;">20</span>
<span id="na2" class="t" style="left:1361.3px;top:775.7px;font-size:25px;line-height:25px;color:#172b4d;font-weight:400;letter-spacing:0.000px;-webkit-text-stroke:0.32px;">1</span>
<svg style="left:1601.2px;top:754.3px" width="56" height="56" viewBox="-28 -28 56 56"><defs><clipPath id="cr2"><circle cx="0" cy="0" r="23.8"/></clipPath><filter id="br2" x="-10%" y="-10%" width="120%" height="120%"><feGaussianBlur stdDeviation="0.4"/></filter></defs><g clip-path="url(#cr2)"><g filter="url(#br2)"><rect x="-26" y="-26" width="52" height="52" fill="#f5f5f4"/>
<path d="M-16.5 19.5 C-13 16.5 -9.5 14.8 -7.6 14 C-5 19 -1 21.3 0.5 21.3 C4 21.3 8 18 9.9 13.6 C12.5 14.6 15.5 16 17.5 17.6 L22 26 H-22Z" fill="#a1d6a0"/>
<path d="M-7.4 5 L-7.6 14 C-5 19 -1 21.3 0.5 21.3 C4 21.3 8 18 9.9 13.6 L9.4 0 Z" fill="#c4977a"/>
<path d="M-7.4 9 C-3 13.5 3 13.5 8.5 8 L9.3 3 L-7.4 5Z" fill="#a87c62" opacity="0.7"/>
<ellipse cx="11.2" cy="-2.8" rx="2.1" ry="4.9" fill="#d6a589"/>
<path d="M-10.3 -19 C-10.8 -8 -10.6 0 -9.8 5 C-8 10 -4 12.6 -1 12.8 C3 12.8 7.2 9 8.4 4 L9.2 -8 L7.6 -19.5 Z" fill="#e8c3a8"/>
<path d="M2.5 -17 L7.6 -17.5 L9.2 -8 L8.4 4 C7.6 7 6 9.4 4 11 C5.2 4 5 -8 2.5 -17Z" fill="#cf9f82" opacity="0.75"/>
<path d="M-10.8 -13.6 C-11.6 -20 -8 -23.6 -2 -24.2 C4 -24.8 9.4 -22.2 11.8 -16.4 C13.2 -12.6 13 -8.6 12.4 -6.4 L10.4 -7.6 C9.8 -8.6 9.6 -10.2 9.2 -11.8 L8.7 -8.6 L7.6 -9.2 C7.8 -13 6.6 -15.8 4 -17.2 C0 -18.4 -6 -18.6 -10.8 -13.6Z" fill="#4d392e"/>
<path d="M-9.9 1.6 C-9.6 7 -7 11 -3 12.6 C0 13.5 4 12.2 6.6 9 C8.2 6.5 8.7 3 8.8 -1 C7.4 2.6 5.8 4.2 3.8 4.2 C2.2 2.4 -1 0.9 -4.6 0.9 C-6.6 0.9 -8.2 1.8 -9.9 1.6Z" fill="#835a46"/>
<path d="M-8.2 2.4 C-6 1.2 -3 1.4 -0.6 3 C-3 2.6 -6 2.8 -8.2 3.6Z" fill="#5e3c2e"/><path d="M-7.6 5.4 C-6 9 -3 11 -0.4 11 C2.6 11 5 9 6.4 5.8 C4 7.6 2 8.2 -0.4 8.2 C-3 8.2 -5.6 7.4 -7.6 5.4Z" fill="#96705a" opacity="0.55"/>
<ellipse cx="-4.6" cy="3.9" rx="2.3" ry="0.9" fill="#c9907f"/>
<ellipse cx="-7.7" cy="-7" rx="1.7" ry="1.15" fill="#fff"/><ellipse cx="0.9" cy="-6.9" rx="2" ry="1.25" fill="#fff"/>
<circle cx="-7.2" cy="-7.5" r="0.95" fill="#3a2a24"/><circle cx="1.6" cy="-7.4" r="1.05" fill="#3a2a24"/>
<path d="M-10.2 -9.4 L-5.8 -10.5 M-1.8 -10.4 L4 -9.9" stroke="#5a4033" stroke-width="1.2" fill="none"/>
<path d="M-5.2 -6 L-7 -0.4 L-4.4 0.4" stroke="#c9997c" stroke-width="0.9" fill="none"/></g></g></svg>
<span id="up2" class="t" style="left:1665.0px;top:770.0px;font-size:28px;line-height:28px;color:#172b4d;font-weight:400;letter-spacing:0.539px;-webkit-text-stroke:0.32px;">4 hours ago</span>
<svg style="left:2262px;top:774px" width="32" height="16" viewBox="-16 -8 32 16" fill="#172b4d"><circle cx="-9.7" cy="0" r="2.85"/><circle cx="0" cy="0" r="2.85"/><circle cx="9.7" cy="0" r="2.85"/></svg>
<span id="bn3" class="t" style="left:538.5px;top:865.4px;font-size:28px;line-height:28px;color:#172b4d;font-weight:400;letter-spacing:0.787px;-webkit-text-stroke:0.32px;">feature/new-navigation-layout</span>
<div class="abs" style="left:1295.9px;top:855.7px;width:62.8px;height:10px;background:#ecedf0;border-radius:5px 0 0 5px"></div>
<div class="abs" style="left:1358.7px;top:855.7px;width:60.2px;height:10px;background:#3b5fe0;border-radius:0 5px 5px 0"></div>
<span id="nb3" class="t" style="right:1042.8px;top:871.7px;font-size:25px;line-height:25px;color:#172b4d;font-weight:400;letter-spacing:0.000px;margin-right:0.000px;-webkit-text-stroke:0.32px;">20</span>
<span id="na3" class="t" style="left:1361.3px;top:871.7px;font-size:25px;line-height:25px;color:#172b4d;font-weight:400;letter-spacing:0.000px;-webkit-text-stroke:0.32px;">17</span>
<svg style="left:1601.2px;top:850.3px" width="56" height="56" viewBox="-28 -28 56 56"><defs><clipPath id="cr3"><circle cx="0" cy="0" r="24"/></clipPath><filter id="br3" x="-10%" y="-10%" width="120%" height="120%"><feGaussianBlur stdDeviation="0.25"/></filter></defs><g clip-path="url(#cr3)"><g filter="url(#br3)"><rect x="-26" y="-26" width="52" height="52" fill="#111"/>
<rect x="-22.3" y="-22.8" width="44.6" height="45.6" fill="#9dcbf1"/>
<rect x="-22.3" y="14.2" width="44.6" height="8.6" fill="#5a8b23"/><rect x="-22.3" y="13.4" width="44.6" height="1.1" fill="#1f3312"/>
<path d="M8.3 12 L13.4 -5.2 L11 -10.8 M13.6 -4.6 L17.8 -10.2" stroke="#2a1c0c" stroke-width="3" fill="none" stroke-linecap="square"/>
<path d="M8.3 12 L13.4 -5.2 L11 -10.8 M13.6 -4.6 L17.8 -10.2" stroke="#8e5f27" stroke-width="1.7" fill="none" stroke-linecap="square"/>
<path d="M-13 -3.5 L-15 -9 L-12.6 -11.4 L-10.4 -16 L-11 -18.8 L-7.2 -18.6 L-4 -16.4 L0.4 -16.2 L1.4 -18 L5.8 -17.8 L5 -15 L7.6 -13.6 L8.4 -10 L7.4 -8.6 L6 -6 L4.4 -8.6 L1 -7.4 L-0.6 -8.6 L-6.6 -6 L-9 -2.6 L-11 -4 Z" fill="#6f8fd2" stroke="#1d2340" stroke-width="1.1" stroke-linejoin="round"/>
<path d="M-8.6 -11 L-7.2 -9.6 M-4.6 -15.2 L-3.2 -14.8 M-3.4 -12.6 L-1 -11.4" stroke="#1d2340" stroke-width="1" />
<path d="M-9.6 -4.6 L-6 -7.2 L-0.4 -9 L1.2 -7.8 L4.6 -8.8 L6 -5 V-0.4 L4 3.6 L-4.6 4.2 L-8.8 0.6Z" fill="#f8e6c2" stroke="#231a14" stroke-width="0.9"/>
<path d="M-5.8 -4 H4.4 V-1.8 L3 -0.4 H0.6 L-0.2 -1.6 L-1.2 -0.4 H-4.2 L-5.8 -2Z" fill="#15151a"/>
<rect x="-3.4" y="2" width="2.2" height="0.9" fill="#3a2620"/>
<path d="M-12.4 1.6 L-9.4 -0.4 L-5.6 3.6 L4.4 3.8 L6.2 0.4 L7.6 2.2 V10.6 H-10.2 L-12.4 6Z" fill="#b7b7b7" stroke="#222" stroke-width="0.9"/>
<path d="M-8.8 6 L-5.6 3.8 M-1.4 4.2 V10 M3.8 4.2 V9.6 M-7.6 9 L-3.6 10.2" stroke="#777" stroke-width="0.9" fill="none"/>
<rect x="-13.6" y="3.8" width="4.6" height="3.4" fill="#d63434" stroke="#222" stroke-width="0.8"/><path d="M5.4 4.6 L8.6 4 L8.6 7.4 L5.4 6.8Z" fill="#d63434" stroke="#222" stroke-width="0.8"/>
<rect x="-13.6" y="7" width="4.2" height="3.8" rx="0.6" fill="#f8e6c2" stroke="#222" stroke-width="0.8"/>
<rect x="9" y="3.8" width="4.6" height="4.2" rx="0.6" fill="#f8e6c2" stroke="#222" stroke-width="0.8"/>
<rect x="-10.2" y="10.4" width="14.6" height="3.6" fill="#d63434" stroke="#222" stroke-width="0.8"/><rect x="-2.2" y="11.6" width="1" height="2.6" fill="#222"/>
<path d="M-11.6 18.2 V16.4 L-10 14.2 H-3 V16 L-0.4 14.2 H4.6 L6.6 17 V18.2Z" fill="#a9a9a9" stroke="#222" stroke-width="0.8"/></g></g></svg>
<span id="up3" class="t" style="left:1665.0px;top:866.0px;font-size:28px;line-height:28px;color:#172b4d;font-weight:400;letter-spacing:0.539px;-webkit-text-stroke:0.32px;">4 hours ago</span>
<span id="pr3" class="t" style="right:423.4px;top:867.0px;font-size:28px;line-height:28px;color:#172b4d;font-weight:400;letter-spacing:1.561px;margin-right:-1.561px;-webkit-text-stroke:0.32px;">#409</span>
<div class="abs" style="left:1979px;top:865px;width:80px;height:32px;background:#3b5fe0;border-radius:6px"></div>
<span id="op3" class="t" style="left:1987.5px;top:870.9px;font-size:22px;line-height:22px;color:#fff;font-weight:700;letter-spacing:0.204px;-webkit-text-stroke:0.3px;">OPEN</span>
<svg style="left:2113.8px;top:858px" width="40" height="40" viewBox="-20 -20 40 40"><circle cx="0" cy="0" r="20" fill="#4b9f6e"/><path d="M-6.6 0.6 L-2.2 4.8 L6.8 -4.2" fill="none" stroke="#fff" stroke-width="4" stroke-linecap="round" stroke-linejoin="round"/></svg>
<svg style="left:2262px;top:870px" width="32" height="16" viewBox="-16 -8 32 16" fill="#172b4d"><circle cx="-9.7" cy="0" r="2.85"/><circle cx="0" cy="0" r="2.85"/><circle cx="9.7" cy="0" r="2.85"/></svg>
<span id="bn4" class="t" style="left:538.5px;top:961.4px;font-size:28px;line-height:28px;color:#172b4d;font-weight:400;letter-spacing:0.872px;-webkit-text-stroke:0.32px;">feature/VBV-765-exam-circles</span>
<div class="abs" style="left:1293.9px;top:951.7px;width:64.8px;height:10px;background:#ecedf0;border-radius:5px 0 0 5px"></div>
<div class="abs" style="left:1358.7px;top:951.7px;width:52.1px;height:10px;background:#3b5fe0;border-radius:0 5px 5px 0"></div>
<span id="nb4" class="t" style="right:1042.8px;top:967.7px;font-size:25px;line-height:25px;color:#172b4d;font-weight:400;letter-spacing:0.000px;margin-right:0.000px;-webkit-text-stroke:0.32px;">22</span>
<span id="na4" class="t" style="left:1361.3px;top:967.7px;font-size:25px;line-height:25px;color:#172b4d;font-weight:400;letter-spacing:0.000px;-webkit-text-stroke:0.32px;">12</span>
<svg style="left:1601.2px;top:946.3px" width="56" height="56" viewBox="-28 -28 56 56"><defs><clipPath id="cr4"><circle cx="0" cy="0" r="23.8"/></clipPath><filter id="br4" x="-10%" y="-10%" width="120%" height="120%"><feGaussianBlur stdDeviation="0.5"/></filter></defs><g clip-path="url(#cr4)"><g filter="url(#br4)"><rect x="-26" y="-26" width="52" height="52" fill="#e6e6e6"/>
<rect x="-24" y="-22" width="16" height="15" fill="#666"/><rect x="-17" y="-20" width="2.4" height="11" fill="#bbb"/><rect x="-12.4" y="-20" width="1.6" height="11" fill="#999"/><rect x="-24" y="-9.6" width="16" height="2.6" fill="#444"/>
<rect x="-24" y="-7" width="20.5" height="8" fill="#d5d5d5"/><rect x="-24" y="-3.4" width="18" height="1.2" fill="#bdbdbd"/>
<rect x="-8.4" y="-24" width="8" height="17" fill="#9c9c9c"/>
<rect x="-0.8" y="-25" width="12.8" height="27" fill="#dedede"/>
<rect x="11.6" y="-25" width="14" height="40" fill="#585858"/><rect x="11.6" y="-25" width="1.6" height="30" fill="#2d2d2d"/>
<rect x="13" y="-9.4" width="12" height="1.1" fill="#3a3a3a"/><rect x="13" y="-5" width="12" height="3" fill="#6e6e6e"/><rect x="13" y="0" width="12" height="1.1" fill="#3f3f3f"/><rect x="14.6" y="-20" width="2" height="10" fill="#222"/>
<path d="M-5.4 -10 C-6 -19 -2 -21.2 1.4 -21.2 C5 -21.2 7.6 -18 7.4 -11 C7.2 -6 5.6 -2.2 2.6 -1.4 C-0.6 -1 -4.6 -3.4 -5.4 -10Z" fill="#9a9a9a"/>
<path d="M-5.6 -11 C-6.4 -19.6 -2 -21.8 1.4 -21.8 C5.4 -21.8 8 -18 7.4 -10.4 C6.6 -15.6 4.6 -18.2 1.4 -18.2 C-2 -18.2 -4.4 -16.4 -5.6 -11Z" fill="#1c1c1c"/>
<path d="M-3.8 -3.6 C-1.6 -0.6 3.4 -0.4 6 -4.4 C6.2 -2.4 5.2 -1 2.8 -0.6 C-0.2 -0.4 -2.6 -1.2 -3.8 -3.6Z" fill="#3c3c3c"/>
<ellipse cx="1.6" cy="-6.7" rx="2.3" ry="0.9" fill="#f2f2f2"/>
<ellipse cx="-2.2" cy="-11.6" rx="1.3" ry="0.8" fill="#333"/><ellipse cx="3.8" cy="-12" rx="1.3" ry="0.8" fill="#3a3a3a"/>
<path d="M-2.2 -1.8 L6.8 -1.8 L8 0.4 L-3.4 0.4Z" fill="#7d7d7d"/>
<path d="M-26 26 V12 C-20 10 -17 2 -14.6 0.8 C-10 -0.6 -6 -1 -2.4 -1.4 C0 1.2 4 1.2 7 -1.4 C11 0 15 1.6 18.4 4 C21 7 22 12 24 16 V26Z" fill="#171717"/>
<path d="M-18 11 C-14 6 -12 3 -10 1" stroke="#303030" stroke-width="1.6" fill="none"/>
<path d="M-10.2 16.6 C-6 15.8 -2 16 0.8 16.8 L0 20.6 C-3 20.8 -7 20 -9 18.6Z" fill="#f1f1f1"/>
<path d="M10.4 17.2 C13 15.4 16 14.4 18 14.2 L17 16 C15 17.4 12.6 18.2 11 18.4Z" fill="#8d8d8d"/></g></g></svg>
<span id="up4" class="t" style="left:1665.0px;top:962.0px;font-size:28px;line-height:28px;color:#172b4d;font-weight:400;letter-spacing:0.387px;-webkit-text-stroke:0.32px;">3 days ago</span>
<svg style="left:2262px;top:966px" width="32" height="16" viewBox="-16 -8 32 16" fill="#172b4d"><circle cx="-9.7" cy="0" r="2.85"/><circle cx="0" cy="0" r="2.85"/><circle cx="9.7" cy="0" r="2.85"/></svg>
<span id="bn5" class="t" style="left:538.5px;top:1057.4px;font-size:28px;line-height:28px;color:#172b4d;font-weight:400;letter-spacing:0.694px;-webkit-text-stroke:0.32px;">bugfix/VBV-760-responsiveness-verbe...</span>
<div class="abs" style="left:1295.9px;top:1047.7px;width:62.8px;height:10px;background:#ecedf0;border-radius:5px 0 0 5px"></div>
<div class="abs" style="left:1358.7px;top:1047.7px;width:23.3px;height:10px;background:#3b5fe0;border-radius:0 5px 5px 0"></div>
<span id="nb5" class="t" style="right:1042.8px;top:1063.7px;font-size:25px;line-height:25px;color:#172b4d;font-weight:400;letter-spacing:0.000px;margin-right:0.000px;-webkit-text-stroke:0.32px;">20</span>
<span id="na5" class="t" style="left:1363.7px;top:1063.7px;font-size:25px;line-height:25px;color:#172b4d;font-weight:400;letter-spacing:0.000px;-webkit-text-stroke:0.32px;">3</span>
<svg style="left:1601.2px;top:1042.3px" width="56" height="56" viewBox="-28 -28 56 56"><defs><clipPath id="cr5"><circle cx="0" cy="0" r="24"/></clipPath><filter id="br5" x="-10%" y="-10%" width="120%" height="120%"><feGaussianBlur stdDeviation="0.55"/></filter></defs><g clip-path="url(#cr5)"><g filter="url(#br5)"><rect x="-26" y="-26" width="52" height="52" fill="#0f0e09"/>
<rect x="-22" y="-16.4" width="44" height="3.8" fill="#27230f" opacity="0.9"/>
<rect x="-24.5" y="-4.2" width="2.2" height="9" fill="#d9622b"/>
<path d="M-13.3 -1 V-6.4 A2.6 2.8 0 0 1 -8.1 -6.4 V-1Z" fill="#9a9068"/><path d="M-12.4 -2 V-5.8 A1.7 2 0 0 1 -9 -5.8 V-2Z" fill="#c2b78c"/>
<rect x="-16.2" y="-3" width="1.6" height="3.6" fill="#5d583c"/><rect x="-6.4" y="-0.6" width="1.6" height="2.2" fill="#5d583c"/>
<rect x="-21.6" y="4" width="6" height="2.6" fill="#6a6444"/>
<path d="M7.4 3.6 V-5 A2.7 4 0 0 1 12.8 -5 V3.6Z" fill="#4a2f1a"/>
<rect x="12.8" y="5.7" width="6.4" height="2.7" fill="#b9ab89"/><rect x="21" y="1.6" width="3" height="4" fill="#5a3115"/>
<path d="M-1.6 -0.4 L5.4 -0.6 L5.6 7 L-1.6 7Z" fill="#9c7560"/>
<path d="M-3 -6 C-3.4 -11 -0.6 -13 2.8 -13 C6.4 -13 8.6 -10.6 8.4 -5.6 C8.2 -2 6.4 0.6 3.2 0.8 C0 0.8 -2.6 -1.8 -3 -6Z" fill="#ad836c"/>
<ellipse cx="2.6" cy="-3.4" rx="3.2" ry="2.2" fill="#d4aa98" opacity="0.8"/>
<path d="M-3.2 -7.6 C-3.8 -13.4 -0.6 -15 2.8 -15 C6.8 -15 9 -12.4 8.5 -7 C8 -9.8 6 -10.6 2.8 -10.6 C-0.6 -10.6 -2.6 -9.8 -3.2 -7.6Z" fill="#0d0c0a"/>
<ellipse cx="0.6" cy="-8.6" rx="1.2" ry="0.8" fill="#2a1c16"/><ellipse cx="5.2" cy="-8.7" rx="1.2" ry="0.8" fill="#2a1c16"/>
<path d="M-0.8 -1.2 C1 0.8 4.4 0.8 6.4 -1.4 C5.6 1 3.6 1.4 2.8 1.4 C1.6 1.4 0 0.6 -0.8 -1.2Z" fill="#5c4234"/>
<path d="M-2 1.2 L-11 7 C-13 10 -14 13.6 -14.4 16 L-8 26 H-4 L3.2 4.6 L-1 4.4Z" fill="#403b2b"/>
<path d="M3 4.4 L5.6 3.2 C9.6 5.6 13.6 8.4 16.4 10.8 C17.4 14 17 18 16 22 L10 26 H-9.4 C-5.6 18 -1.6 10 3 4.4Z" fill="#606b6d"/>
<path d="M5.6 3.2 L8.6 5 L4.4 6.2 Z" fill="#77807f"/></g></g></svg>
<span id="up5" class="t" style="left:1665.0px;top:1058.0px;font-size:28px;line-height:28px;color:#172b4d;font-weight:400;letter-spacing:0.387px;-webkit-text-stroke:0.32px;">5 days ago</span>
<span id="pr5" class="t" style="right:424.4px;top:1059.0px;font-size:28px;line-height:28px;color:#172b4d;font-weight:400;letter-spacing:0.628px;margin-right:-0.628px;-webkit-text-stroke:0.32px;">#410</span>
<div class="abs" style="left:1978px;top:1057px;width:80px;height:32px;background:#3b5fe0;border-radius:6px"></div>
<span id="op5" class="t" style="left:1986.5px;top:1062.9px;font-size:22px;line-height:22px;color:#fff;font-weight:700;letter-spacing:0.204px;-webkit-text-stroke:0.3px;">OPEN</span>
<svg style="left:2113.8px;top:1050px" width="40" height="40" viewBox="-20 -20 40 40"><circle cx="0" cy="0" r="20" fill="#4b9f6e"/><path d="M-6.6 0.6 L-2.2 4.8 L6.8 -4.2" fill="none" stroke="#fff" stroke-width="4" stroke-linecap="round" stroke-linejoin="round"/></svg>
<svg style="left:2262px;top:1062px" width="32" height="16" viewBox="-16 -8 32 16" fill="#172b4d"><circle cx="-9.7" cy="0" r="2.85"/><circle cx="0" cy="0" r="2.85"/><circle cx="9.7" cy="0" r="2.85"/></svg>
<span id="bn6" class="t" style="left:538.5px;top:1153.4px;font-size:28px;line-height:28px;color:#172b4d;font-weight:400;letter-spacing:0.862px;-webkit-text-stroke:0.32px;">feature/new-navigation-structure</span>
<div class="abs" style="left:1295.9px;top:1143.7px;width:62.8px;height:10px;background:#ecedf0;border-radius:5px 0 0 5px"></div>
<div class="abs" style="left:1358.7px;top:1143.7px;width:34.1px;height:10px;background:#3b5fe0;border-radius:0 5px 5px 0"></div>
<span id="nb6" class="t" style="right:1042.8px;top:1159.7px;font-size:25px;line-height:25px;color:#172b4d;font-weight:400;letter-spacing:0.000px;margin-right:0.000px;-webkit-text-stroke:0.32px;">20</span>
<span id="na6" class="t" style="left:1363.7px;top:1159.7px;font-size:25px;line-height:25px;color:#172b4d;font-weight:400;letter-spacing:0.000px;-webkit-text-stroke:0.32px;">5</span>
<svg style="left:1601.2px;top:1138.3px" width="56" height="56" viewBox="-28 -28 56 56"><defs><clipPath id="cr6"><circle cx="0" cy="0" r="24"/></clipPath><filter id="br6" x="-10%" y="-10%" width="120%" height="120%"><feGaussianBlur stdDeviation="0.25"/></filter></defs><g clip-path="url(#cr6)"><g filter="url(#br6)"><rect x="-26" y="-26" width="52" height="52" fill="#111"/>
<rect x="-22.3" y="-22.8" width="44.6" height="45.6" fill="#9dcbf1"/>
<rect x="-22.3" y="14.2" width="44.6" height="8.6" fill="#5a8b23"/><rect x="-22.3" y="13.4" width="44.6" height="1.1" fill="#1f3312"/>
<path d="M8.3 12 L13.4 -5.2 L11 -10.8 M13.6 -4.6 L17.8 -10.2" stroke="#2a1c0c" stroke-width="3" fill="none" stroke-linecap="square"/>
<path d="M8.3 12 L13.4 -5.2 L11 -10.8 M13.6 -4.6 L17.8 -10.2" stroke="#8e5f27" stroke-width="1.7" fill="none" stroke-linecap="square"/>
<path d="M-13 -3.5 L-15 -9 L-12.6 -11.4 L-10.4 -16 L-11 -18.8 L-7.2 -18.6 L-4 -16.4 L0.4 -16.2 L1.4 -18 L5.8 -17.8 L5 -15 L7.6 -13.6 L8.4 -10 L7.4 -8.6 L6 -6 L4.4 -8.6 L1 -7.4 L-0.6 -8.6 L-6.6 -6 L-9 -2.6 L-11 -4 Z" fill="#6f8fd2" stroke="#1d2340" stroke-width="1.1" stroke-linejoin="round"/>
<path d="M-8.6 -11 L-7.2 -9.6 M-4.6 -15.2 L-3.2 -14.8 M-3.4 -12.6 L-1 -11.4" stroke="#1d2340" stroke-width="1" />
<path d="M-9.6 -4.6 L-6 -7.2 L-0.4 -9 L1.2 -7.8 L4.6 -8.8 L6 -5 V-0.4 L4 3.6 L-4.6 4.2 L-8.8 0.6Z" fill="#f8e6c2" stroke="#231a14" stroke-width="0.9"/>
<path d="M-5.8 -4 H4.4 V-1.8 L3 -0.4 H0.6 L-0.2 -1.6 L-1.2 -0.4 H-4.2 L-5.8 -2Z" fill="#15151a"/>
<rect x="-3.4" y="2" width="2.2" height="0.9" fill="#3a2620"/>
<path d="M-12.4 1.6 L-9.4 -0.4 L-5.6 3.6 L4.4 3.8 L6.2 0.4 L7.6 2.2 V10.6 H-10.2 L-12.4 6Z" fill="#b7b7b7" stroke="#222" stroke-width="0.9"/>
<path d="M-8.8 6 L-5.6 3.8 M-1.4 4.2 V10 M3.8 4.2 V9.6 M-7.6 9 L-3.6 10.2" stroke="#777" stroke-width="0.9" fill="none"/>
<rect x="-13.6" y="3.8" width="4.6" height="3.4" fill="#d63434" stroke="#222" stroke-width="0.8"/><path d="M5.4 4.6 L8.6 4 L8.6 7.4 L5.4 6.8Z" fill="#d63434" stroke="#222" stroke-width="0.8"/>
<rect x="-13.6" y="7" width="4.2" height="3.8" rx="0.6" fill="#f8e6c2" stroke="#222" stroke-width="0.8"/>
<rect x="9" y="3.8" width="4.6" height="4.2" rx="0.6" fill="#f8e6c2" stroke="#222" stroke-width="0.8"/>
<rect x="-10.2" y="10.4" width="14.6" height="3.6" fill="#d63434" stroke="#222" stroke-width="0.8"/><rect x="-2.2" y="11.6" width="1" height="2.6" fill="#222"/>
<path d="M-11.6 18.2 V16.4 L-10 14.2 H-3 V16 L-0.4 14.2 H4.6 L6.6 17 V18.2Z" fill="#a9a9a9" stroke="#222" stroke-width="0.8"/></g></g></svg>
<span id="up6" class="t" style="left:1665.0px;top:1154.0px;font-size:28px;line-height:28px;color:#172b4d;font-weight:400;letter-spacing:0.242px;-webkit-text-stroke:0.32px;">7 days ago</span>
<span id="pr6" class="t" style="right:422.4px;top:1155.0px;font-size:28px;line-height:28px;color:#172b4d;font-weight:400;letter-spacing:1.861px;margin-right:-1.861px;-webkit-text-stroke:0.32px;">#407</span>
<div class="abs" style="left:1980px;top:1153px;width:80px;height:32px;background:#3b5fe0;border-radius:6px"></div>
<span id="op6" class="t" style="left:1988.5px;top:1158.9px;font-size:22px;line-height:22px;color:#fff;font-weight:700;letter-spacing:0.204px;-webkit-text-stroke:0.3px;">OPEN</span>
<svg style="left:2113.8px;top:1146px" width="40" height="40" viewBox="-20 -20 40 40"><rect x="-11.2" y="-11.2" width="22.4" height="22.4" rx="2.2" transform="rotate(45)" fill="#b93d2d" stroke="#b93d2d" stroke-width="2.2" stroke-linejoin="round"/><path d="M0 -7.6 V2.2" stroke="#fff" stroke-width="3.6" stroke-linecap="round"/><circle cx="0" cy="8" r="2.1" fill="#fff"/></svg>
<svg style="left:2262px;top:1158px" width="32" height="16" viewBox="-16 -8 32 16" fill="#172b4d"><circle cx="-9.7" cy="0" r="2.85"/><circle cx="0" cy="0" r="2.85"/><circle cx="9.7" cy="0" r="2.85"/></svg>
<span id="bn7" class="t" style="left:538.5px;top:1249.4px;font-size:28px;line-height:28px;color:#172b4d;font-weight:400;letter-spacing:0.701px;-webkit-text-stroke:0.32px;">release/hide-reopen-casework</span>
<div class="abs" style="left:1293.9px;top:1239.7px;width:64.8px;height:10px;background:#ecedf0;border-radius:5px 0 0 5px"></div>
<div class="abs" style="left:1358.7px;top:1239.7px;width:15.2px;height:10px;background:#3b5fe0;border-radius:0 5px 5px 0"></div>
<span id="nb7" class="t" style="right:1042.8px;top:1255.7px;font-size:25px;line-height:25px;color:#172b4d;font-weight:400;letter-spacing:0.000px;margin-right:0.000px;-webkit-text-stroke:0.32px;">22</span>
<span id="na7" class="t" style="left:1363.7px;top:1255.7px;font-size:25px;line-height:25px;color:#172b4d;font-weight:400;letter-spacing:0.000px;-webkit-text-stroke:0.32px;">2</span>
<svg style="left:1601.2px;top:1234.3px" width="56" height="56" viewBox="-28 -28 56 56"><defs><clipPath id="cr7"><circle cx="0" cy="0" r="23.8"/></clipPath><filter id="br7" x="-10%" y="-10%" width="120%" height="120%"><feGaussianBlur stdDeviation="0.4"/></filter></defs><g clip-path="url(#cr7)"><g filter="url(#br7)"><rect x="-26" y="-26" width="52" height="52" fill="#f5f5f4"/>
<path d="M-16.5 19.5 C-13 16.5 -9.5 14.8 -7.6 14 C-5 19 -1 21.3 0.5 21.3 C4 21.3 8 18 9.9 13.6 C12.5 14.6 15.5 16 17.5 17.6 L22 26 H-22Z" fill="#a1d6a0"/>
<path d="M-7.4 5 L-7.6 14 C-5 19 -1 21.3 0.5 21.3 C4 21.3 8 18 9.9 13.6 L9.4 0 Z" fill="#c4977a"/>
<path d="M-7.4 9 C-3 13.5 3 13.5 8.5 8 L9.3 3 L-7.4 5Z" fill="#a87c62" opacity="0.7"/>
<ellipse cx="11.2" cy="-2.8" rx="2.1" ry="4.9" fill="#d6a589"/>
<path d="M-10.3 -19 C-10.8 -8 -10.6 0 -9.8 5 C-8 10 -4 12.6 -1 12.8 C3 12.8 7.2 9 8.4 4 L9.2 -8 L7.6 -19.5 Z" fill="#e8c3a8"/>
<path d="M2.5 -17 L7.6 -17.5 L9.2 -8 L8.4 4 C7.6 7 6 9.4 4 11 C5.2 4 5 -8 2.5 -17Z" fill="#cf9f82" opacity="0.75"/>
<path d="M-10.8 -13.6 C-11.6 -20 -8 -23.6 -2 -24.2 C4 -24.8 9.4 -22.2 11.8 -16.4 C13.2 -12.6 13 -8.6 12.4 -6.4 L10.4 -7.6 C9.8 -8.6 9.6 -10.2 9.2 -11.8 L8.7 -8.6 L7.6 -9.2 C7.8 -13 6.6 -15.8 4 -17.2 C0 -18.4 -6 -18.6 -10.8 -13.6Z" fill="#4d392e"/>
<path d="M-9.9 1.6 C-9.6 7 -7 11 -3 12.6 C0 13.5 4 12.2 6.6 9 C8.2 6.5 8.7 3 8.8 -1 C7.4 2.6 5.8 4.2 3.8 4.2 C2.2 2.4 -1 0.9 -4.6 0.9 C-6.6 0.9 -8.2 1.8 -9.9 1.6Z" fill="#835a46"/>
<path d="M-8.2 2.4 C-6 1.2 -3 1.4 -0.6 3 C-3 2.6 -6 2.8 -8.2 3.6Z" fill="#5e3c2e"/><path d="M-7.6 5.4 C-6 9 -3 11 -0.4 11 C2.6 11 5 9 6.4 5.8 C4 7.6 2 8.2 -0.4 8.2 C-3 8.2 -5.6 7.4 -7.6 5.4Z" fill="#96705a" opacity="0.55"/>
<ellipse cx="-4.6" cy="3.9" rx="2.3" ry="0.9" fill="#c9907f"/>
<ellipse cx="-7.7" cy="-7" rx="1.7" ry="1.15" fill="#fff"/><ellipse cx="0.9" cy="-6.9" rx="2" ry="1.25" fill="#fff"/>
<circle cx="-7.2" cy="-7.5" r="0.95" fill="#3a2a24"/><circle cx="1.6" cy="-7.4" r="1.05" fill="#3a2a24"/>
<path d="M-10.2 -9.4 L-5.8 -10.5 M-1.8 -10.4 L4 -9.9" stroke="#5a4033" stroke-width="1.2" fill="none"/>
<path d="M-5.2 -6 L-7 -0.4 L-4.4 0.4" stroke="#c9997c" stroke-width="0.9" fill="none"/></g></g></svg>
<span id="up7" class="t" style="left:1665.0px;top:1250.0px;font-size:28px;line-height:28px;color:#172b4d;font-weight:400;letter-spacing:0.000px;-webkit-text-stroke:0.32px;transform:scaleX(1.0708);transform-origin:left center;">2024-10-14</span>
<span id="pr7" class="t" style="left:1938.9px;top:1250.4px;font-size:28px;line-height:28px;color:#3b5fe0;font-weight:400;letter-spacing:0.287px;-webkit-text-stroke:0.32px;">Create</span>
<svg style="left:2113.8px;top:1242px" width="40" height="40" viewBox="-20 -20 40 40"><rect x="-11.2" y="-11.2" width="22.4" height="22.4" rx="2.2" transform="rotate(45)" fill="#b93d2d" stroke="#b93d2d" stroke-width="2.2" stroke-linejoin="round"/><path d="M0 -7.6 V2.2" stroke="#fff" stroke-width="3.6" stroke-linecap="round"/><circle cx="0" cy="8" r="2.1" fill="#fff"/></svg>
<svg style="left:2262px;top:1254px" width="32" height="16" viewBox="-16 -8 32 16" fill="#172b4d"><circle cx="-9.7" cy="0" r="2.85"/><circle cx="0" cy="0" r="2.85"/><circle cx="9.7" cy="0" r="2.85"/></svg>
<span id="bn8" class="t" style="left:538.5px;top:1345.4px;font-size:28px;line-height:28px;color:#172b4d;font-weight:400;letter-spacing:0.752px;-webkit-text-stroke:0.32px;">feature/spike-exam-circles</span>
<div class="abs" style="left:1293.9px;top:1335.7px;width:64.8px;height:10px;background:#ecedf0;border-radius:5px 0 0 5px"></div>
<div class="abs" style="left:1358.7px;top:1335.7px;width:34.1px;height:10px;background:#3b5fe0;border-radius:0 5px 5px 0"></div>
<span id="nb8" class="t" style="right:1042.8px;top:1351.7px;font-size:25px;line-height:25px;color:#172b4d;font-weight:400;letter-spacing:0.000px;margin-right:0.000px;-webkit-text-stroke:0.32px;">22</span>
<span id="na8" class="t" style="left:1363.7px;top:1351.7px;font-size:25px;line-height:25px;color:#172b4d;font-weight:400;letter-spacing:0.000px;-webkit-text-stroke:0.32px;">5</span>
<svg style="left:1601.2px;top:1330.3px" width="56" height="56" viewBox="-28 -28 56 56"><defs><clipPath id="cr8"><circle cx="0" cy="0" r="23.8"/></clipPath><filter id="br8" x="-10%" y="-10%" width="120%" height="120%"><feGaussianBlur stdDeviation="0.4"/></filter></defs><g clip-path="url(#cr8)"><g filter="url(#br8)"><rect x="-26" y="-26" width="52" height="52" fill="#f5f5f4"/>
<path d="M-16.5 19.5 C-13 16.5 -9.5 14.8 -7.6 14 C-5 19 -1 21.3 0.5 21.3 C4 21.3 8 18 9.9 13.6 C12.5 14.6 15.5 16 17.5 17.6 L22 26 H-22Z" fill="#a1d6a0"/>
<path d="M-7.4 5 L-7.6 14 C-5 19 -1 21.3 0.5 21.3 C4 21.3 8 18 9.9 13.6 L9.4 0 Z" fill="#c4977a"/>
<path d="M-7.4 9 C-3 13.5 3 13.5 8.5 8 L9.3 3 L-7.4 5Z" fill="#a87c62" opacity="0.7"/>
<ellipse cx="11.2" cy="-2.8" rx="2.1" ry="4.9" fill="#d6a589"/>
<path d="M-10.3 -19 C-10.8 -8 -10.6 0 -9.8 5 C-8 10 -4 12.6 -1 12.8 C3 12.8 7.2 9 8.4 4 L9.2 -8 L7.6 -19.5 Z" fill="#e8c3a8"/>
<path d="M2.5 -17 L7.6 -17.5 L9.2 -8 L8.4 4 C7.6 7 6 9.4 4 11 C5.2 4 5 -8 2.5 -17Z" fill="#cf9f82" opacity="0.75"/>
<path d="M-10.8 -13.6 C-11.6 -20 -8 -23.6 -2 -24.2 C4 -24.8 9.4 -22.2 11.8 -16.4 C13.2 -12.6 13 -8.6 12.4 -6.4 L10.4 -7.6 C9.8 -8.6 9.6 -10.2 9.2 -11.8 L8.7 -8.6 L7.6 -9.2 C7.8 -13 6.6 -15.8 4 -17.2 C0 -18.4 -6 -18.6 -10.8 -13.6Z" fill="#4d392e"/>
<path d="M-9.9 1.6 C-9.6 7 -7 11 -3 12.6 C0 13.5 4 12.2 6.6 9 C8.2 6.5 8.7 3 8.8 -1 C7.4 2.6 5.8 4.2 3.8 4.2 C2.2 2.4 -1 0.9 -4.6 0.9 C-6.6 0.9 -8.2 1.8 -9.9 1.6Z" fill="#835a46"/>
<path d="M-8.2 2.4 C-6 1.2 -3 1.4 -0.6 3 C-3 2.6 -6 2.8 -8.2 3.6Z" fill="#5e3c2e"/><path d="M-7.6 5.4 C-6 9 -3 11 -0.4 11 C2.6 11 5 9 6.4 5.8 C4 7.6 2 8.2 -0.4 8.2 C-3 8.2 -5.6 7.4 -7.6 5.4Z" fill="#96705a" opacity="0.55"/>
<ellipse cx="-4.6" cy="3.9" rx="2.3" ry="0.9" fill="#c9907f"/>
<ellipse cx="-7.7" cy="-7" rx="1.7" ry="1.15" fill="#fff"/><ellipse cx="0.9" cy="-6.9" rx="2" ry="1.25" fill="#fff"/>
<circle cx="-7.2" cy="-7.5" r="0.95" fill="#3a2a24"/><circle cx="1.6" cy="-7.4" r="1.05" fill="#3a2a24"/>
<path d="M-10.2 -9.4 L-5.8 -10.5 M-1.8 -10.4 L4 -9.9" stroke="#5a4033" stroke-width="1.2" fill="none"/>
<path d="M-5.2 -6 L-7 -0.4 L-4.4 0.4" stroke="#c9997c" stroke-width="0.9" fill="none"/></g></g></svg>
<span id="up8" class="t" style="left:1665.0px;top:1346.0px;font-size:28px;line-height:28px;color:#172b4d;font-weight:400;letter-spacing:0.000px;-webkit-text-stroke:0.32px;transform:scaleX(1.1036);transform-origin:left center;">2024-10-09</span>
<span id="pr8" class="t" style="right:422.0px;top:1347.0px;font-size:28px;line-height:28px;color:#172b4d;font-weight:400;letter-spacing:2.294px;margin-right:-2.294px;-webkit-text-stroke:0.32px;">#402</span>
<div class="abs" style="left:1980.4px;top:1345px;width:80px;height:32px;background:#3b5fe0;border-radius:6px"></div>
<span id="op8" class="t" style="left:1988.9px;top:1350.9px;font-size:22px;line-height:22px;color:#fff;font-weight:700;letter-spacing:0.204px;-webkit-text-stroke:0.3px;">OPEN</span>
<svg style="left:2113.8px;top:1338px" width="40" height="40" viewBox="-20 -20 40 40"><rect x="-11.2" y="-11.2" width="22.4" height="22.4" rx="2.2" transform="rotate(45)" fill="#b93d2d" stroke="#b93d2d" stroke-width="2.2" stroke-linejoin="round"/><path d="M0 -7.6 V2.2" stroke="#fff" stroke-width="3.6" stroke-linecap="round"/><circle cx="0" cy="8" r="2.1" fill="#fff"/></svg>
<svg style="left:2262px;top:1350px" width="32" height="16" viewBox="-16 -8 32 16" fill="#172b4d"><circle cx="-9.7" cy="0" r="2.85"/><circle cx="0" cy="0" r="2.85"/><circle cx="9.7" cy="0" r="2.85"/></svg>
<span id="bn9" class="t" style="left:538.5px;top:1441.4px;font-size:28px;line-height:28px;color:#172b4d;font-weight:400;letter-spacing:0.941px;-webkit-text-stroke:0.32px;">fix/VBV-757-trainer-cockpit-progress</span>
<div class="abs" style="left:1281.0px;top:1431.7px;width:77.7px;height:10px;background:#ecedf0;border-radius:5px 0 0 5px"></div>
<div class="abs" style="left:1358.7px;top:1431.7px;width:23.3px;height:10px;background:#3b5fe0;border-radius:0 5px 5px 0"></div>
<span id="nb9" class="t" style="right:1039.2px;top:1447.7px;font-size:25px;line-height:25px;color:#172b4d;font-weight:400;letter-spacing:0.000px;margin-right:0.000px;-webkit-text-stroke:0.32px;">41</span>
<span id="na9" class="t" style="left:1363.7px;top:1447.7px;font-size:25px;line-height:25px;color:#172b4d;font-weight:400;letter-spacing:0.000px;-webkit-text-stroke:0.32px;">3</span>
<svg style="left:1601.2px;top:1426.3px" width="56" height="56" viewBox="-28 -28 56 56"><defs><clipPath id="cr9"><circle cx="0" cy="0" r="23.8"/></clipPath><filter id="br9" x="-10%" y="-10%" width="120%" height="120%"><feGaussianBlur stdDeviation="0.4"/></filter></defs><g clip-path="url(#cr9)"><g filter="url(#br9)"><rect x="-26" y="-26" width="52" height="52" fill="#f5f5f4"/>
<path d="M-16.5 19.5 C-13 16.5 -9.5 14.8 -7.6 14 C-5 19 -1 21.3 0.5 21.3 C4 21.3 8 18 9.9 13.6 C12.5 14.6 15.5 16 17.5 17.6 L22 26 H-22Z" fill="#a1d6a0"/>
<path d="M-7.4 5 L-7.6 14 C-5 19 -1 21.3 0.5 21.3 C4 21.3 8 18 9.9 13.6 L9.4 0 Z" fill="#c4977a"/>
<path d="M-7.4 9 C-3 13.5 3 13.5 8.5 8 L9.3 3 L-7.4 5Z" fill="#a87c62" opacity="0.7"/>
<ellipse cx="11.2" cy="-2.8" rx="2.1" ry="4.9" fill="#d6a589"/>
<path d="M-10.3 -19 C-10.8 -8 -10.6 0 -9.8 5 C-8 10 -4 12.6 -1 12.8 C3 12.8 7.2 9 8.4 4 L9.2 -8 L7.6 -19.5 Z" fill="#e8c3a8"/>
<path d="M2.5 -17 L7.6 -17.5 L9.2 -8 L8.4 4 C7.6 7 6 9.4 4 11 C5.2 4 5 -8 2.5 -17Z" fill="#cf9f82" opacity="0.75"/>
<path d="M-10.8 -13.6 C-11.6 -20 -8 -23.6 -2 -24.2 C4 -24.8 9.4 -22.2 11.8 -16.4 C13.2 -12.6 13 -8.6 12.4 -6.4 L10.4 -7.6 C9.8 -8.6 9.6 -10.2 9.2 -11.8 L8.7 -8.6 L7.6 -9.2 C7.8 -13 6.6 -15.8 4 -17.2 C0 -18.4 -6 -18.6 -10.8 -13.6Z" fill="#4d392e"/>
<path d="M-9.9 1.6 C-9.6 7 -7 11 -3 12.6 C0 13.5 4 12.2 6.6 9 C8.2 6.5 8.7 3 8.8 -1 C7.4 2.6 5.8 4.2 3.8 4.2 C2.2 2.4 -1 0.9 -4.6 0.9 C-6.6 0.9 -8.2 1.8 -9.9 1.6Z" fill="#835a46"/>
<path d="M-8.2 2.4 C-6 1.2 -3 1.4 -0.6 3 C-3 2.6 -6 2.8 -8.2 3.6Z" fill="#5e3c2e"/><path d="M-7.6 5.4 C-6 9 -3 11 -0.4 11 C2.6 11 5 9 6.4 5.8 C4 7.6 2 8.2 -0.4 8.2 C-3 8.2 -5.6 7.4 -7.6 5.4Z" fill="#96705a" opacity="0.55"/>
<ellipse cx="-4.6" cy="3.9" rx="2.3" ry="0.9" fill="#c9907f"/>
<ellipse cx="-7.7" cy="-7" rx="1.7" ry="1.15" fill="#fff"/><ellipse cx="0.9" cy="-6.9" rx="2" ry="1.25" fill="#fff"/>
<circle cx="-7.2" cy="-7.5" r="0.95" fill="#3a2a24"/><circle cx="1.6" cy="-7.4" r="1.05" fill="#3a2a24"/>
<path d="M-10.2 -9.4 L-5.8 -10.5 M-1.8 -10.4 L4 -9.9" stroke="#5a4033" stroke-width="1.2" fill="none"/>
<path d="M-5.2 -6 L-7 -0.4 L-4.4 0.4" stroke="#c9997c" stroke-width="0.9" fill="none"/></g></g></svg>
<span id="up9" class="t" style="left:1665.0px;top:1442.0px;font-size:28px;line-height:28px;color:#172b4d;font-weight:400;letter-spacing:0.000px;-webkit-text-stroke:0.32px;transform:scaleX(1.0869);transform-origin:left center;">2024-10-07</span>
<span id="pr9" class="t" style="left:1938.9px;top:1442.4px;font-size:28px;line-height:28px;color:#3b5fe0;font-weight:400;letter-spacing:0.287px;-webkit-text-stroke:0.32px;">Create</span>
<svg style="left:2113.8px;top:1434px" width="40" height="40" viewBox="-20 -20 40 40"><circle cx="0" cy="0" r="20" fill="#4b9f6e"/><path d="M-6.6 0.6 L-2.2 4.8 L6.8 -4.2" fill="none" stroke="#fff" stroke-width="4" stroke-linecap="round" stroke-linejoin="round"/></svg>
<svg style="left:2262px;top:1446px" width="32" height="16" viewBox="-16 -8 32 16" fill="#172b4d"><circle cx="-9.7" cy="0" r="2.85"/><circle cx="0" cy="0" r="2.85"/><circle cx="9.7" cy="0" r="2.85"/></svg>
<span id="bn10" class="t" style="left:538.5px;top:1537.4px;font-size:28px;line-height:28px;color:#172b4d;font-weight:400;letter-spacing:0.877px;-webkit-text-stroke:0.32px;">feature/VBV-702-testdata-generator</span>
<div class="abs" style="left:1270.9px;top:1527.7px;width:87.8px;height:10px;background:#ecedf0;border-radius:5px 0 0 5px"></div>
<div class="abs" style="left:1358.7px;top:1527.7px;width:50.0px;height:10px;background:#3b5fe0;border-radius:0 5px 5px 0"></div>
<span id="nb10" class="t" style="right:1042.8px;top:1543.7px;font-size:25px;line-height:25px;color:#172b4d;font-weight:400;letter-spacing:0.000px;margin-right:0.000px;-webkit-text-stroke:0.32px;">68</span>
<span id="na10" class="t" style="left:1361.3px;top:1543.7px;font-size:25px;line-height:25px;color:#172b4d;font-weight:400;letter-spacing:0.000px;-webkit-text-stroke:0.32px;">11</span>
<svg style="left:1601.2px;top:1522.3px" width="56" height="56" viewBox="-28 -28 56 56"><defs><clipPath id="cr10"><circle cx="0" cy="0" r="23.8"/></clipPath><filter id="br10" x="-10%" y="-10%" width="120%" height="120%"><feGaussianBlur stdDeviation="0.4"/></filter></defs><g clip-path="url(#cr10)"><g filter="url(#br10)"><rect x="-26" y="-26" width="52" height="52" fill="#f5f5f4"/>
<path d="M-16.5 19.5 C-13 16.5 -9.5 14.8 -7.6 14 C-5 19 -1 21.3 0.5 21.3 C4 21.3 8 18 9.9 13.6 C12.5 14.6 15.5 16 17.5 17.6 L22 26 H-22Z" fill="#a1d6a0"/>
<path d="M-7.4 5 L-7.6 14 C-5 19 -1 21.3 0.5 21.3 C4 21.3 8 18 9.9 13.6 L9.4 0 Z" fill="#c4977a"/>
<path d="M-7.4 9 C-3 13.5 3 13.5 8.5 8 L9.3 3 L-7.4 5Z" fill="#a87c62" opacity="0.7"/>
<ellipse cx="11.2" cy="-2.8" rx="2.1" ry="4.9" fill="#d6a589"/>
<path d="M-10.3 -19 C-10.8 -8 -10.6 0 -9.8 5 C-8 10 -4 12.6 -1 12.8 C3 12.8 7.2 9 8.4 4 L9.2 -8 L7.6 -19.5 Z" fill="#e8c3a8"/>
<path d="M2.5 -17 L7.6 -17.5 L9.2 -8 L8.4 4 C7.6 7 6 9.4 4 11 C5.2 4 5 -8 2.5 -17Z" fill="#cf9f82" opacity="0.75"/>
<path d="M-10.8 -13.6 C-11.6 -20 -8 -23.6 -2 -24.2 C4 -24.8 9.4 -22.2 11.8 -16.4 C13.2 -12.6 13 -8.6 12.4 -6.4 L10.4 -7.6 C9.8 -8.6 9.6 -10.2 9.2 -11.8 L8.7 -8.6 L7.6 -9.2 C7.8 -13 6.6 -15.8 4 -17.2 C0 -18.4 -6 -18.6 -10.8 -13.6Z" fill="#4d392e"/>
<path d="M-9.9 1.6 C-9.6 7 -7 11 -3 12.6 C0 13.5 4 12.2 6.6 9 C8.2 6.5 8.7 3 8.8 -1 C7.4 2.6 5.8 4.2 3.8 4.2 C2.2 2.4 -1 0.9 -4.6 0.9 C-6.6 0.9 -8.2 1.8 -9.9 1.6Z" fill="#835a46"/>
<path d="M-8.2 2.4 C-6 1.2 -3 1.4 -0.6 3 C-3 2.6 -6 2.8 -8.2 3.6Z" fill="#5e3c2e"/><path d="M-7.6 5.4 C-6 9 -3 11 -0.4 11 C2.6 11 5 9 6.4 5.8 C4 7.6 2 8.2 -0.4 8.2 C-3 8.2 -5.6 7.4 -7.6 5.4Z" fill="#96705a" opacity="0.55"/>
<ellipse cx="-4.6" cy="3.9" rx="2.3" ry="0.9" fill="#c9907f"/>
<ellipse cx="-7.7" cy="-7" rx="1.7" ry="1.15" fill="#fff"/><ellipse cx="0.9" cy="-6.9" rx="2" ry="1.25" fill="#fff"/>
<circle cx="-7.2" cy="-7.5" r="0.95" fill="#3a2a24"/><circle cx="1.6" cy="-7.4" r="1.05" fill="#3a2a24"/>
<path d="M-10.2 -9.4 L-5.8 -10.5 M-1.8 -10.4 L4 -9.9" stroke="#5a4033" stroke-width="1.2" fill="none"/>
<path d="M-5.2 -6 L-7 -0.4 L-4.4 0.4" stroke="#c9997c" stroke-width="0.9" fill="none"/></g></g></svg>
<span id="up10" class="t" style="left:1665.0px;top:1538.0px;font-size:28px;line-height:28px;color:#172b4d;font-weight:400;letter-spacing:0.000px;-webkit-text-stroke:0.32px;transform:scaleX(1.1274);transform-origin:left center;">2024-09-25</span>
<span id="pr10" class="t" style="right:422.4px;top:1539.0px;font-size:28px;line-height:28px;color:#172b4d;font-weight:400;letter-spacing:1.528px;margin-right:-1.528px;-webkit-text-stroke:0.32px;">#357</span>
<div class="abs" style="left:1980px;top:1537px;width:80px;height:32px;background:#3b5fe0;border-radius:6px"></div>
<span id="op10" class="t" style="left:1988.5px;top:1542.9px;font-size:22px;line-height:22px;color:#fff;font-weight:700;letter-spacing:0.204px;-webkit-text-stroke:0.3px;">OPEN</span>
<svg style="left:2113.8px;top:1530px" width="40" height="40" viewBox="-20 -20 40 40"><rect x="-11.2" y="-11.2" width="22.4" height="22.4" rx="2.2" transform="rotate(45)" fill="#b93d2d" stroke="#b93d2d" stroke-width="2.2" stroke-linejoin="round"/><path d="M0 -7.6 V2.2" stroke="#fff" stroke-width="3.6" stroke-linecap="round"/><circle cx="0" cy="8" r="2.1" fill="#fff"/></svg>
<svg style="left:2262px;top:1542px" width="32" height="16" viewBox="-16 -8 32 16" fill="#172b4d"><circle cx="-9.7" cy="0" r="2.85"/><circle cx="0" cy="0" r="2.85"/><circle cx="9.7" cy="0" r="2.85"/></svg>
<div class="abs" style="left:1932px;top:630px;width:370px;height:384px;background:#fefeff;border-radius:7px;box-shadow:0 0 2px rgba(9,30,66,0.35),0 14px 30px -6px rgba(9,30,66,0.28)"></div>
<div class="abs" style="left:1932px;top:886px;width:370px;height:64px;background:#f1f2f4"></div>
<span id="mn0" class="t" style="left:1956.0px;top:648.4px;font-size:28px;line-height:28px;color:#172b4d;font-weight:400;letter-spacing:0.546px;-webkit-text-stroke:0.32px;">View source</span>
<span id="mn1" class="t" style="left:1956.0px;top:712.4px;font-size:28px;line-height:28px;color:#172b4d;font-weight:400;letter-spacing:0.468px;-webkit-text-stroke:0.32px;">Compare</span>
<span id="mn2" class="t" style="left:1956.0px;top:776.4px;font-size:28px;line-height:28px;color:#b5bbc9;font-weight:400;letter-spacing:0.651px;-webkit-text-stroke:0.32px;">Merge</span>
<span id="mn3" class="t" style="left:1956.0px;top:840.4px;font-size:28px;line-height:28px;color:#b5bbc9;font-weight:400;letter-spacing:0.509px;-webkit-text-stroke:0.32px;">Delete</span>
<span id="mn4" class="t" style="left:1956.0px;top:904.4px;font-size:28px;line-height:28px;color:#172b4d;font-weight:400;letter-spacing:0.359px;-webkit-text-stroke:0.32px;">Run pipeline for a branch</span>
<span id="mn5" class="t" style="left:1956.0px;top:968.4px;font-size:28px;line-height:28px;color:#172b4d;font-weight:400;letter-spacing:0.467px;-webkit-text-stroke:0.32px;">Create pull request</span>
<svg style="left:0;top:0;filter:drop-shadow(0 3.5px 4px rgba(40,35,40,0.2))" width="2394" height="1566" viewBox="0 0 2394 1566"><path d="M845.3 137.3 L337.3 328.8 L329.8 309.8 L284.5 358.6 L351.0 363.4 L343.5 344.4 L845.5 137.9Z" fill="#ee922c" stroke="#ee922c" stroke-width="6.4" stroke-linejoin="round"/><path d="M1176.7 603.3 L2166.1 605.2 L2166.2 625.6 L2226.1 596.2 L2165.8 567.6 L2165.9 588.0 L1176.7 602.7Z" fill="#ee922c" stroke="#ee922c" stroke-width="6.4" stroke-linejoin="round"/><path d="M2266.6 637.1 L2126.9 836.8 L2110.6 826.2 L2101.9 890.5 L2157.2 856.6 L2141.0 846.0 L2267.1 637.4Z" fill="#ee922c" stroke="#ee922c" stroke-width="6.4" stroke-linejoin="round"/></svg>
</div>
</body></html>
